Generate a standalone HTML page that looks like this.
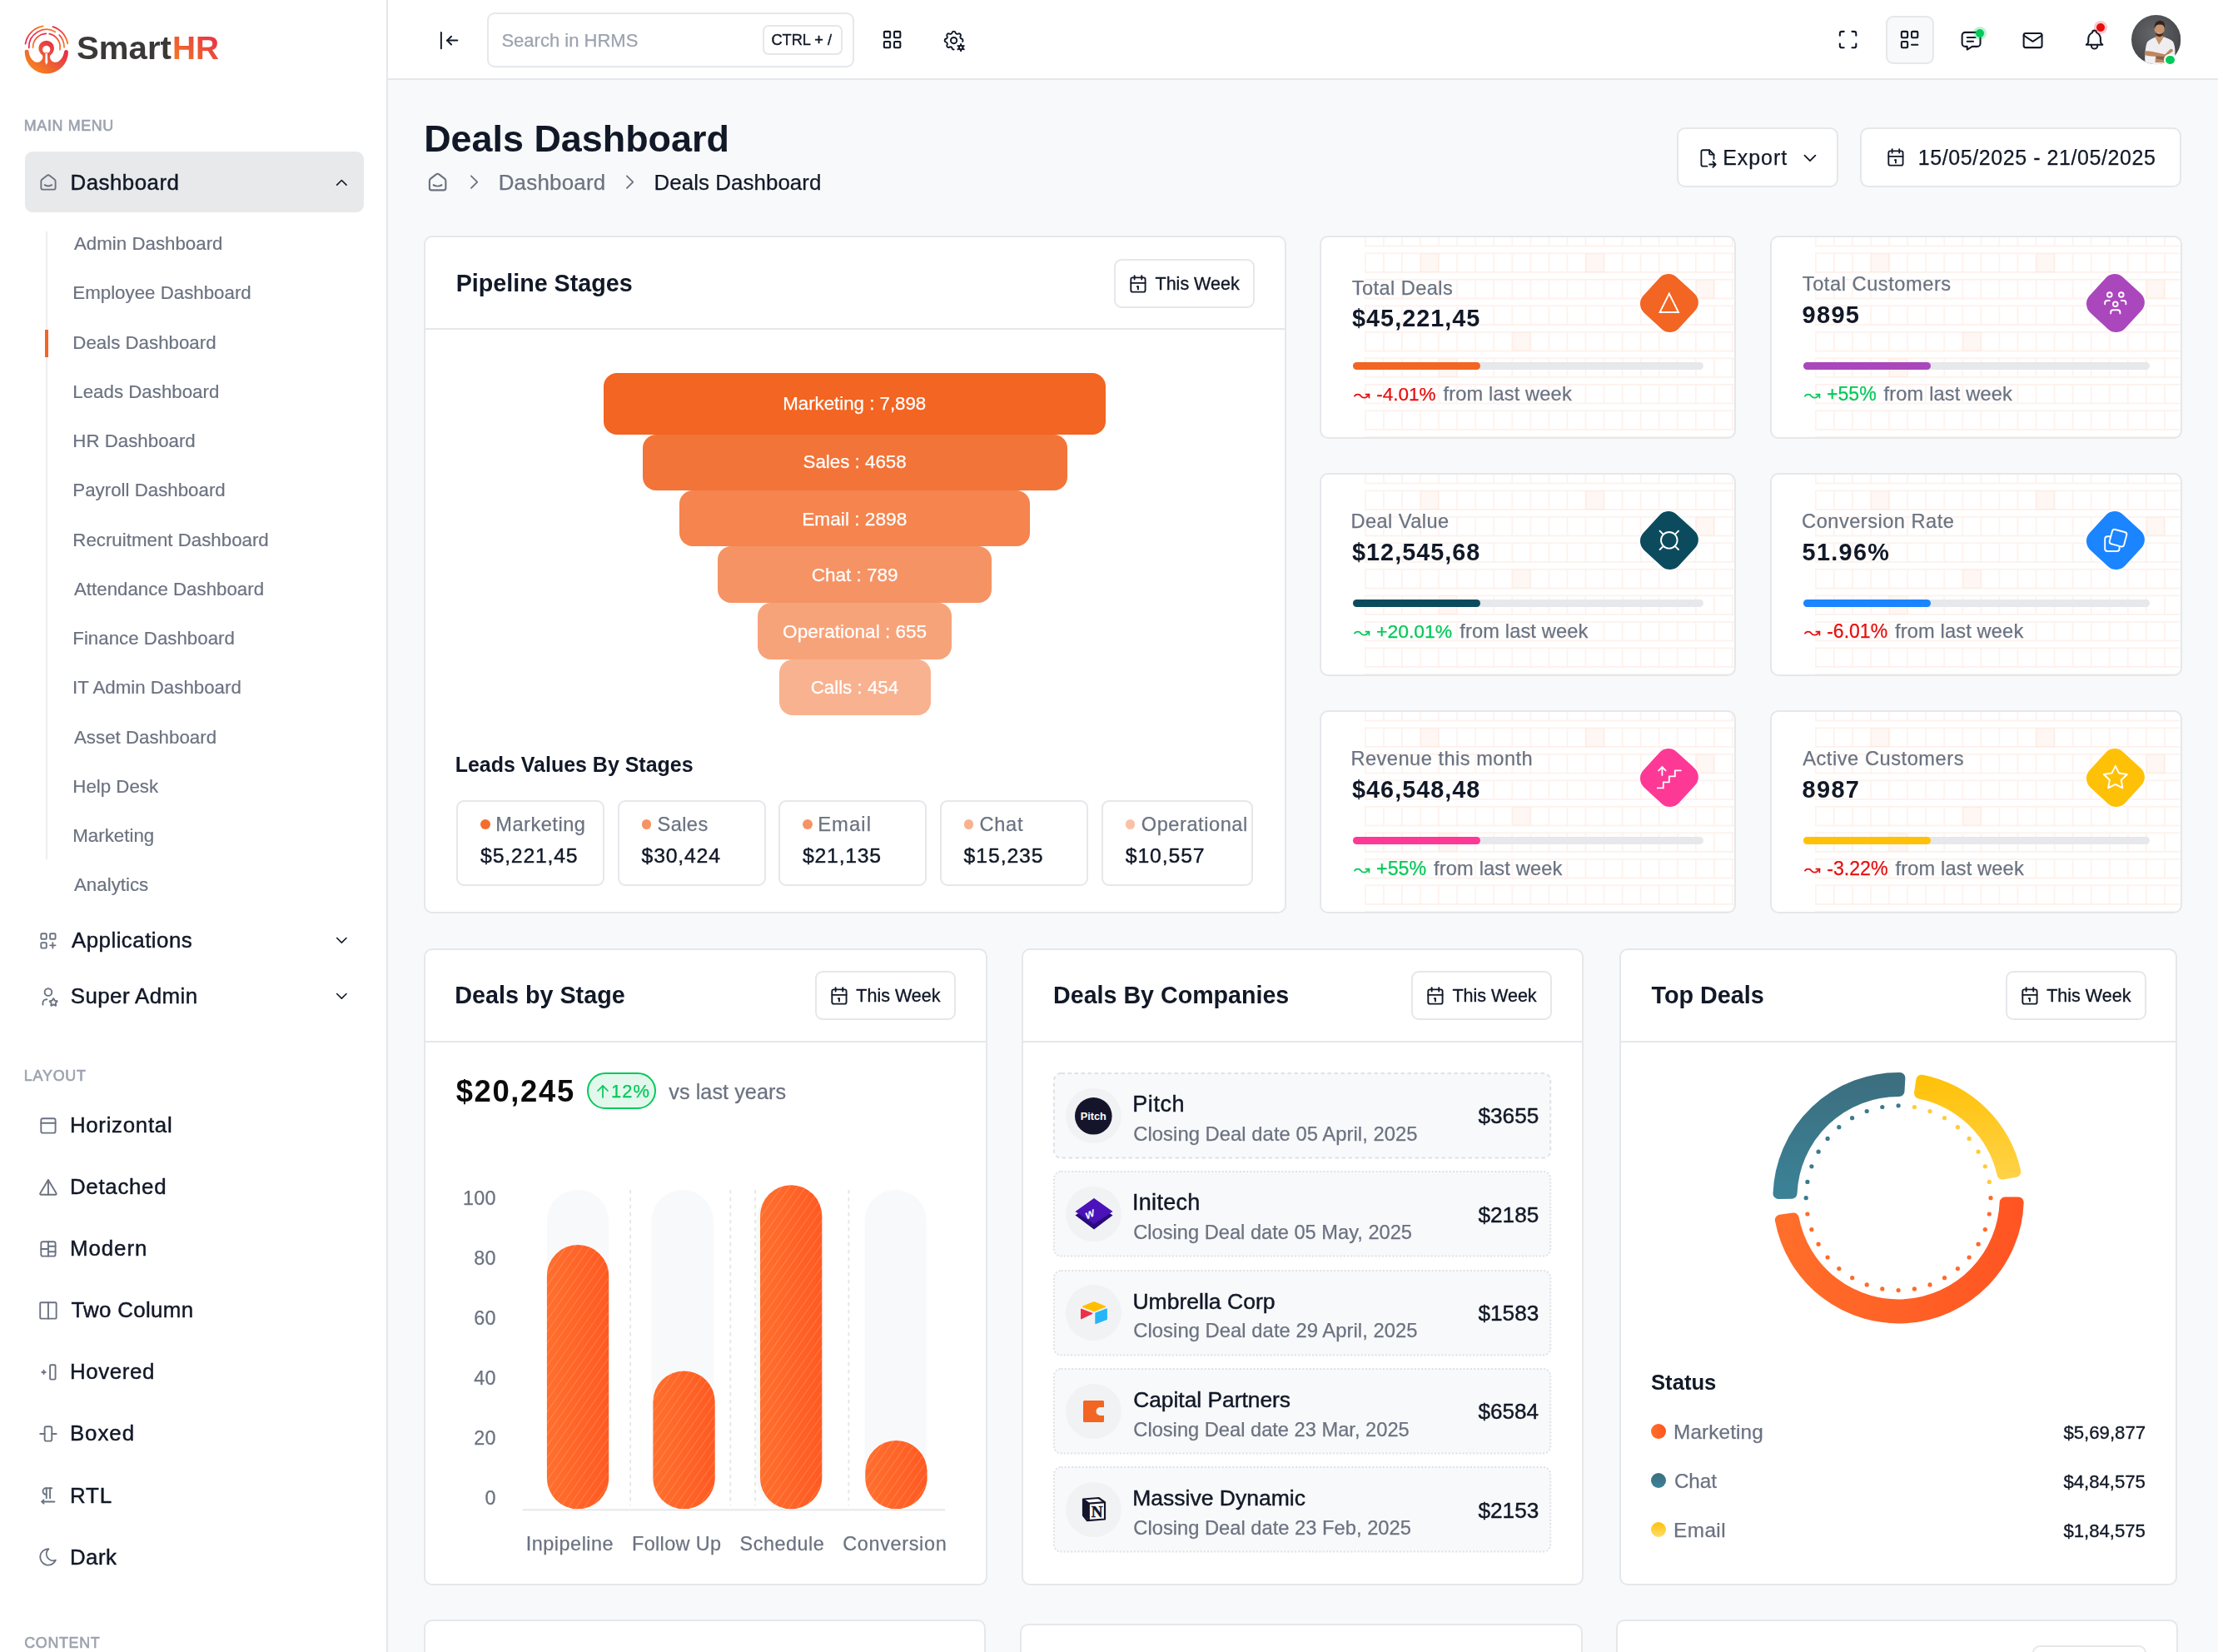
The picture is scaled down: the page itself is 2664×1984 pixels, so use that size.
<!DOCTYPE html>
<html lang="en"><head><meta charset="utf-8"><title>Deals Dashboard</title>
<style>
html,body{margin:0;padding:0}
body{width:2664px;height:1984px;overflow:hidden;background:#F8F9FA;position:relative;font-family:"Liberation Sans",sans-serif}
#app,#txt{position:absolute;left:0;top:0;width:2664px;height:1984px;overflow:hidden}
#txt{will-change:opacity}
.t{position:absolute;white-space:nowrap;line-height:1;display:block}
.b{position:absolute;box-sizing:border-box}
.i{position:absolute;display:block;overflow:visible}
</style></head>
<body>
<div id="app">
<div class="b" style="left:466.0px;top:0.0px;width:2198.0px;height:96.0px;background:#fff;border-bottom:2px solid #E5E7EB;"></div>
<svg class="i" style="left:525.4px;top:33.8px" width="29.2" height="29.2" viewBox="0 0 24 24" fill="none" stroke="#111827" stroke-width="1.6" stroke-linecap="round" stroke-linejoin="round"><path d="M10 12l10 0"/><path d="M10 12l4 4"/><path d="M10 12l4 -4"/><path d="M4 4l0 16"/></svg>
<div class="b" style="left:585.0px;top:15.0px;width:441.0px;height:66.0px;background:#fff;border:2px solid #E5E7EB;border-radius:9px;"></div>
<div class="b" style="left:916.0px;top:30.0px;width:95.5px;height:36.0px;background:#fff;border:2px solid #E5E7EB;border-radius:7px;"></div>
<svg class="i" style="left:1056.6px;top:33.4px" width="29.2" height="29.2" viewBox="0 0 24 24" fill="none" stroke="#111827" stroke-width="1.7" stroke-linecap="round" stroke-linejoin="round"><path d="M4 5a1 1 0 0 1 1 -1h4a1 1 0 0 1 1 1v4a1 1 0 0 1 -1 1h-4a1 1 0 0 1 -1 -1z"/><path d="M14 5a1 1 0 0 1 1 -1h4a1 1 0 0 1 1 1v4a1 1 0 0 1 -1 1h-4a1 1 0 0 1 -1 -1z"/><path d="M4 15a1 1 0 0 1 1 -1h4a1 1 0 0 1 1 1v4a1 1 0 0 1 -1 1h-4a1 1 0 0 1 -1 -1z"/><path d="M14 15a1 1 0 0 1 1 -1h4a1 1 0 0 1 1 1v4a1 1 0 0 1 -1 1h-4a1 1 0 0 1 -1 -1z"/></svg>
<svg class="i" style="left:1131.3px;top:33.6px" width="29.2" height="29.2" viewBox="0 0 24 24" fill="none" stroke="#111827" stroke-width="1.6" stroke-linecap="round" stroke-linejoin="round"><path d="M12.003 21c-.732 .001 -1.465 -.438 -1.678 -1.317a1.724 1.724 0 0 0 -2.573 -1.066c-1.543 .94 -3.31 -.826 -2.37 -2.37a1.724 1.724 0 0 0 -1.065 -2.572c-1.756 -.426 -1.756 -2.924 0 -3.35a1.724 1.724 0 0 0 1.066 -2.573c-.94 -1.543 .826 -3.31 2.37 -2.37c1 .608 2.296 .07 2.572 -1.065c.426 -1.756 2.924 -1.756 3.35 0a1.724 1.724 0 0 0 2.573 1.066c1.543 -.94 3.31 .826 2.37 2.37a1.724 1.724 0 0 0 1.065 2.572c1.312 .318 1.644 1.794 .995 2.697"/><path d="M9 12a3 3 0 1 0 6 0a3 3 0 0 0 -6 0"/><path d="M19.001 19m-2 0a2 2 0 1 0 4 0a2 2 0 1 0 -4 0"/><path d="M19.001 15.5v1.5"/><path d="M19.001 21v1.500"/><path d="M22.032 17.25l-1.299 .75"/><path d="M17.27 20l-1.3 .75"/><path d="M15.97 17.25l1.3 .75"/><path d="M20.733 20l1.300 .75"/></svg>
<svg class="i" style="left:2205.4px;top:33.4px" width="29.2" height="29.2" viewBox="0 0 24 24" fill="none" stroke="#111827" stroke-width="1.7" stroke-linecap="round" stroke-linejoin="round"><path d="M4 8v-2a2 2 0 0 1 2 -2h2"/><path d="M4 16v2a2 2 0 0 0 2 2h2"/><path d="M16 4h2a2 2 0 0 1 2 2v2"/><path d="M16 20h2a2 2 0 0 0 2 -2v-2"/></svg>
<div class="b" style="left:2264.7px;top:18.9px;width:58.4px;height:58.2px;background:#F8F9FA;border:2px solid #E5E7EB;border-radius:9px;"></div>
<svg class="i" style="left:2279.4px;top:33.4px" width="29.2" height="29.2" viewBox="0 0 24 24" fill="none" stroke="#111827" stroke-width="1.7" stroke-linecap="round" stroke-linejoin="round"><path d="M4 5a1 1 0 0 1 1 -1h4a1 1 0 0 1 1 1v4a1 1 0 0 1 -1 1h-4a1 1 0 0 1 -1 -1z"/><path d="M14 5a1 1 0 0 1 1 -1h4a1 1 0 0 1 1 1v4a1 1 0 0 1 -1 1h-4a1 1 0 0 1 -1 -1z"/><path d="M4 15a1 1 0 0 1 1 -1h4a1 1 0 0 1 1 1v4a1 1 0 0 1 -1 1h-4a1 1 0 0 1 -1 -1z"/><path d="M14 17h6"/></svg>
<svg class="i" style="left:2353.4px;top:34.2px" width="29.2" height="29.2" viewBox="0 0 24 24" fill="none" stroke="#111827" stroke-width="1.7" stroke-linecap="round" stroke-linejoin="round"><path d="M8 9h8"/><path d="M8 13h6"/><path d="M18 4a3 3 0 0 1 3 3v8a3 3 0 0 1 -3 3h-5l-5 3v-3h-2a3 3 0 0 1 -3 -3v-8a3 3 0 0 1 3 -3h12z"/></svg>
<div class="b" style="left:2369.7px;top:32.0px;width:16.0px;height:16.0px;background:rgba(3,201,90,.25);border-radius:8px;"></div>
<div class="b" style="left:2372.7px;top:35.0px;width:10.0px;height:10.0px;background:#03C95A;border-radius:5px;"></div>
<svg class="i" style="left:2427.4px;top:33.6px" width="29.2" height="29.2" viewBox="0 0 24 24" fill="none" stroke="#111827" stroke-width="1.7" stroke-linecap="round" stroke-linejoin="round"><path d="M3 7a2 2 0 0 1 2 -2h14a2 2 0 0 1 2 2v10a2 2 0 0 1 -2 2h-14a2 2 0 0 1 -2 -2v-10z"/><path d="M3 7l9 6l9 -6"/></svg>
<svg class="i" style="left:2501.3px;top:33.4px" width="29.2" height="29.2" viewBox="0 0 24 24" fill="none" stroke="#111827" stroke-width="1.7" stroke-linecap="round" stroke-linejoin="round"><path d="M10 5a2 2 0 1 1 4 0a7 7 0 0 1 4 6v3a4 4 0 0 0 2 3h-16a4 4 0 0 0 2 -3v-3a7 7 0 0 1 4 -6"/><path d="M9 17v1a3 3 0 0 0 6 0v-1"/></svg>
<div class="b" style="left:2514.5px;top:24.5px;width:16.0px;height:16.0px;background:rgba(232,38,70,.25);border-radius:8px;"></div>
<div class="b" style="left:2517.5px;top:27.5px;width:10.0px;height:10.0px;background:#E70D0D;border-radius:5px;"></div>
<svg class="i" style="left:2560.4px;top:18.4px" width="59.3" height="59.3" viewBox="215 215 1225 1225">
<defs><clipPath id="avc"><circle cx="827.5" cy="827.5" r="612.5"/></clipPath>
<radialGradient id="avg" cx="0.45" cy="0.38" r="0.65"><stop offset="0" stop-color="#64666A"/><stop offset="1" stop-color="#434448"/></radialGradient>
<filter id="avb"><feGaussianBlur stdDeviation="6"/></filter></defs>
<g clip-path="url(#avc)"><rect x="215" y="215" width="1225" height="1225" fill="url(#avg)"/>
<g filter="url(#avb)">
<path d="M560 1440C540 1250 560 1000 600 900C640 840 740 800 810 765L1020 755C1100 790 1200 820 1250 880C1300 980 1310 1150 1290 1250L1040 1440Z" fill="#EEEEF1"/>
<path d="M805 770L900 955L1020 758C980 740 960 700 955 680L850 690C850 720 830 750 805 770Z" fill="#C8916B"/>
<ellipse cx="910" cy="570" rx="125" ry="170" fill="#C8946E"/>
<path d="M790 560C770 420 850 350 930 355C1020 360 1060 430 1035 540C1020 470 990 450 920 455C850 450 810 480 790 560Z" fill="#33241C"/>
<path d="M800 610C810 720 860 755 910 755C965 755 1010 720 1020 610C1000 680 960 690 910 690C860 690 820 680 800 610Z" fill="#3B2A21"/>
<path d="M850 640C880 665 940 665 970 640C950 660 880 660 850 640Z" fill="#F3E9E4"/>
<path d="M545 1110C700 1090 900 1170 1050 1190L1180 1060C1220 1040 1260 1080 1240 1120L1100 1210L1045 1390L800 1390L810 1250C700 1240 600 1230 550 1200Z" fill="#BF8660"/>
<path d="M830 1240L1030 1250L1020 1330L840 1300Z" fill="#6B5144" opacity=".7"/>
<path d="M555 1250L805 1245L800 1400L570 1400Z" fill="#F1F1F4"/>
</g></g></svg>
<div class="b" style="left:2599.4px;top:64.9px;width:14.6px;height:14.6px;background:#03C95A;border:2.1px solid #fff;border-radius:7.3px;"></div>
<svg class="i" style="left:510.8px;top:203.8px" width="29.2" height="29.2" viewBox="0 0 24 24" fill="none" stroke="#6B7280" stroke-width="1.75" stroke-linecap="round" stroke-linejoin="round"><path d="M19 8.71l-5.333 -4.148a2.666 2.666 0 0 0 -3.274 0l-5.334 4.148a2.665 2.665 0 0 0 -1.029 2.105v7.2a2 2 0 0 0 2 2h12a2 2 0 0 0 2 -2v-7.2c0 -.823 -.38 -1.6 -1.03 -2.105"/><path d="M16 15c-2.21 1.333 -5.792 1.333 -8 0"/></svg>
<svg class="i" style="left:555.2px;top:203.9px" width="29.2" height="29.2" viewBox="0 0 24 24" fill="none" stroke="#6B7280" stroke-width="1.5" stroke-linecap="round" stroke-linejoin="round"><path d="M9 6l6 6l-6 6"/></svg>
<svg class="i" style="left:742.0px;top:203.9px" width="29.2" height="29.2" viewBox="0 0 24 24" fill="none" stroke="#6B7280" stroke-width="1.5" stroke-linecap="round" stroke-linejoin="round"><path d="M9 6l6 6l-6 6"/></svg>
<div class="b" style="left:2013.5px;top:152.7px;width:194.7px;height:72.3px;background:#fff;border:2px solid #E5E7EB;border-radius:10px;"></div>
<svg class="i" style="left:2038.0px;top:176.8px" width="25.9" height="25.9" viewBox="0 0 24 24" fill="none" stroke="#111827" stroke-width="1.7" stroke-linecap="round" stroke-linejoin="round"><path d="M14 3v4a1 1 0 0 0 1 1h4"/><path d="M11.5 21h-4.5a2 2 0 0 1 -2 -2v-14a2 2 0 0 1 2 -2h7l5 5v5m-5 6h7m-3 -3l3 3l-3 3"/></svg>
<svg class="i" style="left:2161.4px;top:177.0px" width="25.9" height="25.9" viewBox="0 0 24 24" fill="none" stroke="#111827" stroke-width="1.7" stroke-linecap="round" stroke-linejoin="round"><path d="M6 9l6 6l6 -6"/></svg>
<div class="b" style="left:2233.8px;top:152.7px;width:386.5px;height:72.3px;background:#fff;border:2px solid #E5E7EB;border-radius:10px;"></div>
<svg class="i" style="left:2264.1px;top:176.0px" width="25.9" height="25.9" viewBox="0 0 24 24" fill="none" stroke="#111827" stroke-width="1.7" stroke-linecap="round" stroke-linejoin="round"><path d="M4 7a2 2 0 0 1 2 -2h12a2 2 0 0 1 2 2v12a2 2 0 0 1 -2 2h-12a2 2 0 0 1 -2 -2z"/><path d="M16 3v4"/><path d="M8 3v4"/><path d="M4 11h16"/><path d="M11 15h1"/><path d="M12 15v3"/></svg>
<div class="b" style="left:509.0px;top:283.0px;width:1036.0px;height:814.0px;background:#fff;border:2px solid #E5E7EB;border-radius:10px;"></div>
<div class="b" style="left:511.0px;top:394.0px;width:1032.0px;height:2.0px;background:#E5E7EB;"></div>
<div class="b" style="left:1337.9px;top:311.0px;width:169.6px;height:58.7px;background:#fff;border:2px solid #E5E7EB;border-radius:9px;"></div>
<svg class="i" style="left:1354.0px;top:327.8px" width="25.9" height="25.9" viewBox="0 0 24 24" fill="none" stroke="#111827" stroke-width="1.75" stroke-linecap="round" stroke-linejoin="round"><path d="M4 7a2 2 0 0 1 2 -2h12a2 2 0 0 1 2 2v12a2 2 0 0 1 -2 2h-12a2 2 0 0 1 -2 -2z"/><path d="M16 3v4"/><path d="M8 3v4"/><path d="M4 11h16"/><path d="M11 15h1"/><path d="M12 15v3"/></svg>
<div class="b" style="left:725.0px;top:447.7px;width:603.4px;height:74.1px;background:rgba(242,101,34,1.00);border-radius:16px;"></div>
<div class="b" style="left:771.7px;top:521.8px;width:510.0px;height:67.1px;background:rgba(242,101,34,0.90);border-radius:16px;"></div>
<div class="b" style="left:816.3px;top:588.9px;width:420.8px;height:67.5px;background:rgba(242,101,34,0.80);border-radius:16px;"></div>
<div class="b" style="left:862.0px;top:656.4px;width:329.4px;height:67.9px;background:rgba(242,101,34,0.70);border-radius:16px;"></div>
<div class="b" style="left:910.4px;top:724.3px;width:232.6px;height:67.3px;background:rgba(242,101,34,0.60);border-radius:16px;"></div>
<div class="b" style="left:935.7px;top:791.6px;width:182.0px;height:67.6px;background:rgba(242,101,34,0.50);border-radius:16px;"></div>
<div class="b" style="left:548.0px;top:961.0px;width:178.2px;height:102.7px;background:#fff;border:2px solid #E5E7EB;border-radius:9px;"></div>
<div class="b" style="left:577.0px;top:984.3px;width:11.7px;height:11.7px;background:rgba(242,101,34,0.95);border-radius:6px;"></div>
<div class="b" style="left:741.5px;top:961.0px;width:178.2px;height:102.7px;background:#fff;border:2px solid #E5E7EB;border-radius:9px;"></div>
<div class="b" style="left:770.5px;top:984.3px;width:11.7px;height:11.7px;background:rgba(242,101,34,0.70);border-radius:6px;"></div>
<div class="b" style="left:935.0px;top:961.0px;width:178.2px;height:102.7px;background:#fff;border:2px solid #E5E7EB;border-radius:9px;"></div>
<div class="b" style="left:964.0px;top:984.3px;width:11.7px;height:11.7px;background:rgba(242,101,34,0.70);border-radius:6px;"></div>
<div class="b" style="left:1128.5px;top:961.0px;width:178.2px;height:102.7px;background:#fff;border:2px solid #E5E7EB;border-radius:9px;"></div>
<div class="b" style="left:1157.5px;top:984.3px;width:11.7px;height:11.7px;background:rgba(242,101,34,0.50);border-radius:6px;"></div>
<div class="b" style="left:1322.7px;top:961.0px;width:182.8px;height:102.7px;background:#fff;border:2px solid #E5E7EB;border-radius:9px;"></div>
<div class="b" style="left:1351.7px;top:984.3px;width:11.7px;height:11.7px;background:rgba(242,101,34,0.40);border-radius:6px;"></div>
<div class="b" style="left:1585.0px;top:283.0px;width:500.0px;height:244.0px;background:#fff;border:2px solid #E5E7EB;border-radius:10px;"></div>
<svg class="i" style="left:1639.3px;top:285.0px;overflow:hidden;border-radius:0 8px 8px 0" width="443.7" height="240.0"><defs><pattern id="gp1585_283" x="0" y="-13.1" width="22.05" height="31.5" patternUnits="userSpaceOnUse"><path d="M0.9 0V24.5M0 0.9H22.05M0 23.6H22.05" stroke="rgba(242,101,34,.09)" stroke-width="1.7" fill="none"/></pattern></defs><rect width="100%" height="100%" fill="url(#gp1585_283)"/><rect x="67.1" y="19.3" width="22.1" height="22.7" fill="rgba(242,101,34,.055)"/><rect x="265.5" y="19.3" width="22.1" height="22.7" fill="rgba(242,101,34,.055)"/><rect x="397.8" y="50.8" width="22.1" height="22.7" fill="rgba(242,101,34,.055)"/><rect x="177.3" y="113.8" width="22.1" height="22.7" fill="rgba(242,101,34,.055)"/><rect x="89.1" y="145.3" width="22.1" height="22.7" fill="rgba(242,101,34,.055)"/></svg>
<div class="b" style="left:1975.8px;top:334.7px;width:57.8px;height:57.8px;background:#F26522;border-radius:14.6px;transform:rotate(42.5deg);box-shadow:0 0 0 1.6px rgba(255,255,255,.95);"></div>
<svg class="i" style="left:1987.9px;top:346.8px" width="33.6" height="33.6" viewBox="0 0 24 24" fill="none" stroke="#fff" stroke-width="1.35" stroke-linecap="round" stroke-linejoin="miter"><path d="M4 20h16l-8 -16z"/></svg>
<div class="b" style="left:1624.5px;top:434.8px;width:421.7px;height:9.2px;background:#E6E8EB;border-radius:5px;"></div>
<div class="b" style="left:1624.5px;top:434.8px;width:153.1px;height:9.2px;background:#F26522;border-radius:5px;"></div>
<svg class="i" style="left:1623.8px;top:463.9px" width="23.3" height="23.3" viewBox="0 0 24 24" fill="none" stroke="#E70D0D" stroke-width="1.85" stroke-linecap="round" stroke-linejoin="round"><path d="M17 10h4v4"/><path d="M3 12c.887 -1.284 2.480 -2.033 4 -2c1.520 -.033 3.113 .716 4 2s2.480 2.033 4 2c1.520 .033 3.113 -.716 4 -2l2 -2"/></svg>
<div class="b" style="left:2126.0px;top:283.0px;width:495.0px;height:244.0px;background:#fff;border:2px solid #E5E7EB;border-radius:10px;"></div>
<svg class="i" style="left:2180.3px;top:285.0px;overflow:hidden;border-radius:0 8px 8px 0" width="438.7" height="240.0"><defs><pattern id="gp2126_283" x="0" y="-13.1" width="22.05" height="31.5" patternUnits="userSpaceOnUse"><path d="M0.9 0V24.5M0 0.9H22.05M0 23.6H22.05" stroke="rgba(242,101,34,.09)" stroke-width="1.7" fill="none"/></pattern></defs><rect width="100%" height="100%" fill="url(#gp2126_283)"/><rect x="67.1" y="19.3" width="22.1" height="22.7" fill="rgba(242,101,34,.055)"/><rect x="265.5" y="19.3" width="22.1" height="22.7" fill="rgba(242,101,34,.055)"/><rect x="397.8" y="50.8" width="22.1" height="22.7" fill="rgba(242,101,34,.055)"/><rect x="177.3" y="113.8" width="22.1" height="22.7" fill="rgba(242,101,34,.055)"/><rect x="89.1" y="145.3" width="22.1" height="22.7" fill="rgba(242,101,34,.055)"/></svg>
<div class="b" style="left:2511.8px;top:334.7px;width:57.8px;height:57.8px;background:#AB47BC;border-radius:14.6px;transform:rotate(42.5deg);box-shadow:0 0 0 1.6px rgba(255,255,255,.95);"></div>
<svg class="i" style="left:2523.9px;top:346.8px" width="33.6" height="33.6" viewBox="0 0 24 24" fill="none" stroke="#fff" stroke-width="1.35" stroke-linecap="round" stroke-linejoin="round"><path d="M10 13a2 2 0 1 0 4 0a2 2 0 0 0 -4 0"/><path d="M8 21v-1a2 2 0 0 1 2 -2h4a2 2 0 0 1 2 2v1"/><path d="M15 5a2 2 0 1 0 4 0a2 2 0 0 0 -4 0"/><path d="M17 10h2a2 2 0 0 1 2 2v1"/><path d="M5 5a2 2 0 1 0 4 0a2 2 0 0 0 -4 0"/><path d="M3 13v-1a2 2 0 0 1 2 -2h2"/></svg>
<div class="b" style="left:2165.5px;top:434.8px;width:416.7px;height:9.2px;background:#E6E8EB;border-radius:5px;"></div>
<div class="b" style="left:2165.5px;top:434.8px;width:153.1px;height:9.2px;background:#AB47BC;border-radius:5px;"></div>
<svg class="i" style="left:2164.8px;top:463.9px" width="23.3" height="23.3" viewBox="0 0 24 24" fill="none" stroke="#03C95A" stroke-width="1.85" stroke-linecap="round" stroke-linejoin="round"><path d="M17 10h4v4"/><path d="M3 12c.887 -1.284 2.480 -2.033 4 -2c1.520 -.033 3.113 .716 4 2s2.480 2.033 4 2c1.520 .033 3.113 -.716 4 -2l2 -2"/></svg>
<div class="b" style="left:1585.0px;top:568.0px;width:500.0px;height:244.0px;background:#fff;border:2px solid #E5E7EB;border-radius:10px;"></div>
<svg class="i" style="left:1639.3px;top:570.0px;overflow:hidden;border-radius:0 8px 8px 0" width="443.7" height="240.0"><defs><pattern id="gp1585_568" x="0" y="-13.1" width="22.05" height="31.5" patternUnits="userSpaceOnUse"><path d="M0.9 0V24.5M0 0.9H22.05M0 23.6H22.05" stroke="rgba(242,101,34,.09)" stroke-width="1.7" fill="none"/></pattern></defs><rect width="100%" height="100%" fill="url(#gp1585_568)"/><rect x="67.1" y="19.3" width="22.1" height="22.7" fill="rgba(242,101,34,.055)"/><rect x="265.5" y="19.3" width="22.1" height="22.7" fill="rgba(242,101,34,.055)"/><rect x="397.8" y="50.8" width="22.1" height="22.7" fill="rgba(242,101,34,.055)"/><rect x="177.3" y="113.8" width="22.1" height="22.7" fill="rgba(242,101,34,.055)"/><rect x="89.1" y="145.3" width="22.1" height="22.7" fill="rgba(242,101,34,.055)"/></svg>
<div class="b" style="left:1975.8px;top:619.7px;width:57.8px;height:57.8px;background:#0C4B5E;border-radius:14.6px;transform:rotate(42.5deg);box-shadow:0 0 0 1.6px rgba(255,255,255,.95);"></div>
<svg class="i" style="left:1987.9px;top:631.8px" width="33.6" height="33.6" viewBox="0 0 24 24" fill="none" stroke="#fff" stroke-width="1.35" stroke-linecap="round" stroke-linejoin="round"><path d="M5 12a7 7 0 1 0 14 0a7 7 0 1 0 -14 0"/><path d="M4 4l3 3"/><path d="M20 4l-3 3"/><path d="M4 20l3 -3"/><path d="M20 20l-3 -3"/></svg>
<div class="b" style="left:1624.5px;top:719.8px;width:421.7px;height:9.2px;background:#E6E8EB;border-radius:5px;"></div>
<div class="b" style="left:1624.5px;top:719.8px;width:153.1px;height:9.2px;background:#0C4B5E;border-radius:5px;"></div>
<svg class="i" style="left:1623.8px;top:748.9px" width="23.3" height="23.3" viewBox="0 0 24 24" fill="none" stroke="#03C95A" stroke-width="1.85" stroke-linecap="round" stroke-linejoin="round"><path d="M17 10h4v4"/><path d="M3 12c.887 -1.284 2.480 -2.033 4 -2c1.520 -.033 3.113 .716 4 2s2.480 2.033 4 2c1.520 .033 3.113 -.716 4 -2l2 -2"/></svg>
<div class="b" style="left:2126.0px;top:568.0px;width:495.0px;height:244.0px;background:#fff;border:2px solid #E5E7EB;border-radius:10px;"></div>
<svg class="i" style="left:2180.3px;top:570.0px;overflow:hidden;border-radius:0 8px 8px 0" width="438.7" height="240.0"><defs><pattern id="gp2126_568" x="0" y="-13.1" width="22.05" height="31.5" patternUnits="userSpaceOnUse"><path d="M0.9 0V24.5M0 0.9H22.05M0 23.6H22.05" stroke="rgba(242,101,34,.09)" stroke-width="1.7" fill="none"/></pattern></defs><rect width="100%" height="100%" fill="url(#gp2126_568)"/><rect x="67.1" y="19.3" width="22.1" height="22.7" fill="rgba(242,101,34,.055)"/><rect x="265.5" y="19.3" width="22.1" height="22.7" fill="rgba(242,101,34,.055)"/><rect x="397.8" y="50.8" width="22.1" height="22.7" fill="rgba(242,101,34,.055)"/><rect x="177.3" y="113.8" width="22.1" height="22.7" fill="rgba(242,101,34,.055)"/><rect x="89.1" y="145.3" width="22.1" height="22.7" fill="rgba(242,101,34,.055)"/></svg>
<div class="b" style="left:2511.8px;top:619.7px;width:57.8px;height:57.8px;background:#1B84FF;border-radius:14.6px;transform:rotate(42.5deg);box-shadow:0 0 0 1.6px rgba(255,255,255,.95);"></div>
<svg class="i" style="left:2523.9px;top:631.8px" width="33.6" height="33.6" viewBox="0 0 24 24" fill="none" stroke="#fff" stroke-width="1.35" stroke-linecap="round" stroke-linejoin="round"><rect x="3" y="8.8" width="12.4" height="12.6" rx="2.2"/><rect x="7.9" y="3.7" width="12.8" height="12.8" rx="2.2" fill="#1B84FF" transform="rotate(15 14.3 10.1)"/></svg>
<div class="b" style="left:2165.5px;top:719.8px;width:416.7px;height:9.2px;background:#E6E8EB;border-radius:5px;"></div>
<div class="b" style="left:2165.5px;top:719.8px;width:153.1px;height:9.2px;background:#1B84FF;border-radius:5px;"></div>
<svg class="i" style="left:2164.8px;top:748.9px" width="23.3" height="23.3" viewBox="0 0 24 24" fill="none" stroke="#E70D0D" stroke-width="1.85" stroke-linecap="round" stroke-linejoin="round"><path d="M17 10h4v4"/><path d="M3 12c.887 -1.284 2.480 -2.033 4 -2c1.520 -.033 3.113 .716 4 2s2.480 2.033 4 2c1.520 .033 3.113 -.716 4 -2l2 -2"/></svg>
<div class="b" style="left:1585.0px;top:853.0px;width:500.0px;height:244.0px;background:#fff;border:2px solid #E5E7EB;border-radius:10px;"></div>
<svg class="i" style="left:1639.3px;top:855.0px;overflow:hidden;border-radius:0 8px 8px 0" width="443.7" height="240.0"><defs><pattern id="gp1585_853" x="0" y="-13.1" width="22.05" height="31.5" patternUnits="userSpaceOnUse"><path d="M0.9 0V24.5M0 0.9H22.05M0 23.6H22.05" stroke="rgba(242,101,34,.09)" stroke-width="1.7" fill="none"/></pattern></defs><rect width="100%" height="100%" fill="url(#gp1585_853)"/><rect x="67.1" y="19.3" width="22.1" height="22.7" fill="rgba(242,101,34,.055)"/><rect x="265.5" y="19.3" width="22.1" height="22.7" fill="rgba(242,101,34,.055)"/><rect x="397.8" y="50.8" width="22.1" height="22.7" fill="rgba(242,101,34,.055)"/><rect x="177.3" y="113.8" width="22.1" height="22.7" fill="rgba(242,101,34,.055)"/><rect x="89.1" y="145.3" width="22.1" height="22.7" fill="rgba(242,101,34,.055)"/></svg>
<div class="b" style="left:1975.8px;top:904.7px;width:57.8px;height:57.8px;background:#FD3995;border-radius:14.6px;transform:rotate(42.5deg);box-shadow:0 0 0 1.6px rgba(255,255,255,.95);"></div>
<svg class="i" style="left:1987.9px;top:916.8px" width="33.6" height="33.6" viewBox="0 0 24 24" fill="none" stroke="#fff" stroke-width="1.35" stroke-linecap="round" stroke-linejoin="round"><path d="M22 6h-5v5h-5v5h-5v5h-5"/><path d="M6 10v-7"/><path d="M3 6l3 -3l3 3"/></svg>
<div class="b" style="left:1624.5px;top:1004.8px;width:421.7px;height:9.2px;background:#E6E8EB;border-radius:5px;"></div>
<div class="b" style="left:1624.5px;top:1004.8px;width:153.1px;height:9.2px;background:#FD3995;border-radius:5px;"></div>
<svg class="i" style="left:1623.8px;top:1033.9px" width="23.3" height="23.3" viewBox="0 0 24 24" fill="none" stroke="#03C95A" stroke-width="1.85" stroke-linecap="round" stroke-linejoin="round"><path d="M17 10h4v4"/><path d="M3 12c.887 -1.284 2.480 -2.033 4 -2c1.520 -.033 3.113 .716 4 2s2.480 2.033 4 2c1.520 .033 3.113 -.716 4 -2l2 -2"/></svg>
<div class="b" style="left:2126.0px;top:853.0px;width:495.0px;height:244.0px;background:#fff;border:2px solid #E5E7EB;border-radius:10px;"></div>
<svg class="i" style="left:2180.3px;top:855.0px;overflow:hidden;border-radius:0 8px 8px 0" width="438.7" height="240.0"><defs><pattern id="gp2126_853" x="0" y="-13.1" width="22.05" height="31.5" patternUnits="userSpaceOnUse"><path d="M0.9 0V24.5M0 0.9H22.05M0 23.6H22.05" stroke="rgba(242,101,34,.09)" stroke-width="1.7" fill="none"/></pattern></defs><rect width="100%" height="100%" fill="url(#gp2126_853)"/><rect x="67.1" y="19.3" width="22.1" height="22.7" fill="rgba(242,101,34,.055)"/><rect x="265.5" y="19.3" width="22.1" height="22.7" fill="rgba(242,101,34,.055)"/><rect x="397.8" y="50.8" width="22.1" height="22.7" fill="rgba(242,101,34,.055)"/><rect x="177.3" y="113.8" width="22.1" height="22.7" fill="rgba(242,101,34,.055)"/><rect x="89.1" y="145.3" width="22.1" height="22.7" fill="rgba(242,101,34,.055)"/></svg>
<div class="b" style="left:2511.8px;top:904.7px;width:57.8px;height:57.8px;background:#FFC107;border-radius:14.6px;transform:rotate(42.5deg);box-shadow:0 0 0 1.6px rgba(255,255,255,.95);"></div>
<svg class="i" style="left:2523.9px;top:916.8px" width="33.6" height="33.6" viewBox="0 0 24 24" fill="none" stroke="#fff" stroke-width="1.35" stroke-linecap="round" stroke-linejoin="round"><path d="M12 17.75l-6.172 3.245l1.179 -6.873l-5 -4.867l6.9 -1l3.086 -6.253l3.086 6.253l6.9 1l-5 4.867l1.179 6.873z"/></svg>
<div class="b" style="left:2165.5px;top:1004.8px;width:416.7px;height:9.2px;background:#E6E8EB;border-radius:5px;"></div>
<div class="b" style="left:2165.5px;top:1004.8px;width:153.1px;height:9.2px;background:#FFC107;border-radius:5px;"></div>
<svg class="i" style="left:2164.8px;top:1033.9px" width="23.3" height="23.3" viewBox="0 0 24 24" fill="none" stroke="#E70D0D" stroke-width="1.85" stroke-linecap="round" stroke-linejoin="round"><path d="M17 10h4v4"/><path d="M3 12c.887 -1.284 2.480 -2.033 4 -2c1.520 -.033 3.113 .716 4 2s2.480 2.033 4 2c1.520 .033 3.113 -.716 4 -2l2 -2"/></svg>
<div class="b" style="left:509.0px;top:1138.6px;width:677.0px;height:765.7px;background:#fff;border:2px solid #E5E7EB;border-radius:10px;"></div>
<div class="b" style="left:511.0px;top:1249.6px;width:673.0px;height:2.0px;background:#E5E7EB;"></div>
<div class="b" style="left:978.7px;top:1166.0px;width:169.6px;height:58.7px;background:#fff;border:2px solid #E5E7EB;border-radius:9px;"></div>
<svg class="i" style="left:994.8px;top:1182.8px" width="25.9" height="25.9" viewBox="0 0 24 24" fill="none" stroke="#111827" stroke-width="1.75" stroke-linecap="round" stroke-linejoin="round"><path d="M4 7a2 2 0 0 1 2 -2h12a2 2 0 0 1 2 2v12a2 2 0 0 1 -2 2h-12a2 2 0 0 1 -2 -2z"/><path d="M16 3v4"/><path d="M8 3v4"/><path d="M4 11h16"/><path d="M11 15h1"/><path d="M12 15v3"/></svg>
<div class="b" style="left:705.0px;top:1288.4px;width:83.0px;height:44.0px;background:#E3F8EC;border:2px solid #03C95A;border-radius:22px;"></div>
<svg class="i" style="left:711.7px;top:1299.2px" width="24" height="24" viewBox="0 0 24 24" fill="none" stroke="#03C95A" stroke-width="1.7" stroke-linecap="round" stroke-linejoin="round"><path d="M12 5l0 14"/><path d="M18 11l-6 -6"/><path d="M6 11l6 -6"/></svg>
<svg class="i" style="left:600px;top:1400px" width="560" height="430" viewBox="600 1400 560 430"><defs><linearGradient id="bg1" x1="0" y1="0" x2="1" y2="0"><stop offset="0" stop-color="#FF6F2E"/><stop offset="1" stop-color="#FF5A21"/></linearGradient><pattern id="bp1" width="9" height="9" patternUnits="userSpaceOnUse" patternTransform="rotate(35)"><rect width="9" height="9" fill="url(#bg1)"/><rect width="1.1" height="9" fill="rgba(255,255,255,.16)"/></pattern></defs><rect x="656.9" y="1429" width="74.2" height="383.3" rx="37.1" fill="#F8F9FA"/><rect x="782.6" y="1429" width="74.2" height="383.3" rx="37.1" fill="#F8F9FA"/><rect x="908.3" y="1429" width="74.2" height="383.3" rx="37.1" fill="#F8F9FA"/><rect x="1038.5" y="1429" width="74.2" height="383.3" rx="37.1" fill="#F8F9FA"/><path d="M757.1 1429V1808" stroke="#E3E5E9" stroke-width="1.8" stroke-dasharray="4.5 4.5"/><path d="M877.3 1429V1808" stroke="#E3E5E9" stroke-width="1.8" stroke-dasharray="4.5 4.5"/><path d="M907.2 1429V1808" stroke="#E3E5E9" stroke-width="1.8" stroke-dasharray="4.5 4.5"/><path d="M1019.4 1429V1808" stroke="#E3E5E9" stroke-width="1.8" stroke-dasharray="4.5 4.5"/><g><rect x="656.9" y="1495" width="74.3" height="317.3" rx="37.15" fill="url(#bg1)"/><clipPath id="bc0"><rect x="656.9" y="1495" width="74.3" height="317.3" rx="37.15"/></clipPath><g clip-path="url(#bc0)" stroke="rgba(255,255,255,.17)" stroke-width="1.1"><path d="M339.7 1820L629.7 1405"/><path d="M349.3 1820L639.3 1405"/><path d="M358.9 1820L648.9 1405"/><path d="M368.5 1820L658.5 1405"/><path d="M378.1 1820L668.1 1405"/><path d="M387.7 1820L677.7 1405"/><path d="M397.3 1820L687.3 1405"/><path d="M406.9 1820L696.9 1405"/><path d="M416.5 1820L706.5 1405"/><path d="M426.1 1820L716.1 1405"/><path d="M435.7 1820L725.7 1405"/><path d="M445.3 1820L735.3 1405"/><path d="M454.9 1820L744.9 1405"/><path d="M464.5 1820L754.5 1405"/><path d="M474.1 1820L764.1 1405"/><path d="M483.7 1820L773.7 1405"/><path d="M493.3 1820L783.3 1405"/><path d="M502.9 1820L792.9 1405"/><path d="M512.5 1820L802.5 1405"/><path d="M522.1 1820L812.1 1405"/><path d="M531.7 1820L821.7 1405"/><path d="M541.3 1820L831.3 1405"/><path d="M550.9 1820L840.9 1405"/><path d="M560.5 1820L850.5 1405"/><path d="M570.1 1820L860.1 1405"/><path d="M579.7 1820L869.7 1405"/><path d="M589.3 1820L879.3 1405"/><path d="M598.9 1820L888.9 1405"/><path d="M608.5 1820L898.5 1405"/><path d="M618.1 1820L908.1 1405"/><path d="M627.7 1820L917.7 1405"/><path d="M637.3 1820L927.3 1405"/><path d="M646.9 1820L936.9 1405"/><path d="M656.5 1820L946.5 1405"/><path d="M666.1 1820L956.1 1405"/><path d="M675.7 1820L965.7 1405"/><path d="M685.3 1820L975.3 1405"/><path d="M694.9 1820L984.9 1405"/><path d="M704.5 1820L994.5 1405"/><path d="M714.1 1820L1004.1 1405"/><path d="M723.7 1820L1013.7 1405"/><path d="M733.3 1820L1023.3 1405"/></g></g><g><rect x="784.4" y="1646.4" width="74.3" height="165.9" rx="37.15" fill="url(#bg1)"/><clipPath id="bc1"><rect x="784.4" y="1646.4" width="74.3" height="165.9" rx="37.15"/></clipPath><g clip-path="url(#bc1)" stroke="rgba(255,255,255,.17)" stroke-width="1.1"><path d="M467.2 1820L757.2 1405"/><path d="M476.8 1820L766.8 1405"/><path d="M486.4 1820L776.4 1405"/><path d="M496.0 1820L786.0 1405"/><path d="M505.6 1820L795.6 1405"/><path d="M515.2 1820L805.2 1405"/><path d="M524.8 1820L814.8 1405"/><path d="M534.4 1820L824.4 1405"/><path d="M544.0 1820L834.0 1405"/><path d="M553.6 1820L843.6 1405"/><path d="M563.2 1820L853.2 1405"/><path d="M572.8 1820L862.8 1405"/><path d="M582.4 1820L872.4 1405"/><path d="M592.0 1820L882.0 1405"/><path d="M601.6 1820L891.6 1405"/><path d="M611.2 1820L901.2 1405"/><path d="M620.8 1820L910.8 1405"/><path d="M630.4 1820L920.4 1405"/><path d="M640.0 1820L930.0 1405"/><path d="M649.6 1820L939.6 1405"/><path d="M659.2 1820L949.2 1405"/><path d="M668.8 1820L958.8 1405"/><path d="M678.4 1820L968.4 1405"/><path d="M688.0 1820L978.0 1405"/><path d="M697.6 1820L987.6 1405"/><path d="M707.2 1820L997.2 1405"/><path d="M716.8 1820L1006.8 1405"/><path d="M726.4 1820L1016.4 1405"/><path d="M736.0 1820L1026.0 1405"/><path d="M745.6 1820L1035.6 1405"/><path d="M755.2 1820L1045.2 1405"/><path d="M764.8 1820L1054.8 1405"/><path d="M774.4 1820L1064.4 1405"/><path d="M784.0 1820L1074.0 1405"/><path d="M793.6 1820L1083.6 1405"/><path d="M803.2 1820L1093.2 1405"/><path d="M812.8 1820L1102.8 1405"/><path d="M822.4 1820L1112.4 1405"/><path d="M832.0 1820L1122.0 1405"/><path d="M841.6 1820L1131.6 1405"/><path d="M851.2 1820L1141.2 1405"/><path d="M860.8 1820L1150.8 1405"/></g></g><g><rect x="913" y="1423.2" width="74.3" height="389.1" rx="37.15" fill="url(#bg1)"/><clipPath id="bc2"><rect x="913" y="1423.2" width="74.3" height="389.1" rx="37.15"/></clipPath><g clip-path="url(#bc2)" stroke="rgba(255,255,255,.17)" stroke-width="1.1"><path d="M595.8 1820L885.8 1405"/><path d="M605.4 1820L895.4 1405"/><path d="M615.0 1820L905.0 1405"/><path d="M624.6 1820L914.6 1405"/><path d="M634.2 1820L924.2 1405"/><path d="M643.8 1820L933.8 1405"/><path d="M653.4 1820L943.4 1405"/><path d="M663.0 1820L953.0 1405"/><path d="M672.6 1820L962.6 1405"/><path d="M682.2 1820L972.2 1405"/><path d="M691.8 1820L981.8 1405"/><path d="M701.4 1820L991.4 1405"/><path d="M711.0 1820L1001.0 1405"/><path d="M720.6 1820L1010.6 1405"/><path d="M730.2 1820L1020.2 1405"/><path d="M739.8 1820L1029.8 1405"/><path d="M749.4 1820L1039.4 1405"/><path d="M759.0 1820L1049.0 1405"/><path d="M768.6 1820L1058.6 1405"/><path d="M778.2 1820L1068.2 1405"/><path d="M787.8 1820L1077.8 1405"/><path d="M797.4 1820L1087.4 1405"/><path d="M807.0 1820L1097.0 1405"/><path d="M816.6 1820L1106.6 1405"/><path d="M826.2 1820L1116.2 1405"/><path d="M835.8 1820L1125.8 1405"/><path d="M845.4 1820L1135.4 1405"/><path d="M855.0 1820L1145.0 1405"/><path d="M864.6 1820L1154.6 1405"/><path d="M874.2 1820L1164.2 1405"/><path d="M883.8 1820L1173.8 1405"/><path d="M893.4 1820L1183.4 1405"/><path d="M903.0 1820L1193.0 1405"/><path d="M912.6 1820L1202.6 1405"/><path d="M922.2 1820L1212.2 1405"/><path d="M931.8 1820L1221.8 1405"/><path d="M941.4 1820L1231.4 1405"/><path d="M951.0 1820L1241.0 1405"/><path d="M960.6 1820L1250.6 1405"/><path d="M970.2 1820L1260.2 1405"/><path d="M979.8 1820L1269.8 1405"/><path d="M989.4 1820L1279.4 1405"/></g></g><g><rect x="1039.3" y="1730" width="74.3" height="82.3" rx="37.15" fill="url(#bg1)"/><clipPath id="bc3"><rect x="1039.3" y="1730" width="74.3" height="82.3" rx="37.15"/></clipPath><g clip-path="url(#bc3)" stroke="rgba(255,255,255,.17)" stroke-width="1.1"><path d="M722.1 1820L1012.1 1405"/><path d="M731.7 1820L1021.7 1405"/><path d="M741.3 1820L1031.3 1405"/><path d="M750.9 1820L1040.9 1405"/><path d="M760.5 1820L1050.5 1405"/><path d="M770.1 1820L1060.1 1405"/><path d="M779.7 1820L1069.7 1405"/><path d="M789.3 1820L1079.3 1405"/><path d="M798.9 1820L1088.9 1405"/><path d="M808.5 1820L1098.5 1405"/><path d="M818.1 1820L1108.1 1405"/><path d="M827.7 1820L1117.7 1405"/><path d="M837.3 1820L1127.3 1405"/><path d="M846.9 1820L1136.9 1405"/><path d="M856.5 1820L1146.5 1405"/><path d="M866.1 1820L1156.1 1405"/><path d="M875.7 1820L1165.7 1405"/><path d="M885.3 1820L1175.3 1405"/><path d="M894.9 1820L1184.9 1405"/><path d="M904.5 1820L1194.5 1405"/><path d="M914.1 1820L1204.1 1405"/><path d="M923.7 1820L1213.7 1405"/><path d="M933.3 1820L1223.3 1405"/><path d="M942.9 1820L1232.9 1405"/><path d="M952.5 1820L1242.5 1405"/><path d="M962.1 1820L1252.1 1405"/><path d="M971.7 1820L1261.7 1405"/><path d="M981.3 1820L1271.3 1405"/><path d="M990.9 1820L1280.9 1405"/><path d="M1000.5 1820L1290.5 1405"/><path d="M1010.1 1820L1300.1 1405"/><path d="M1019.7 1820L1309.7 1405"/><path d="M1029.3 1820L1319.3 1405"/><path d="M1038.9 1820L1328.9 1405"/><path d="M1048.5 1820L1338.5 1405"/><path d="M1058.1 1820L1348.1 1405"/><path d="M1067.7 1820L1357.7 1405"/><path d="M1077.3 1820L1367.3 1405"/><path d="M1086.9 1820L1376.9 1405"/><path d="M1096.5 1820L1386.5 1405"/><path d="M1106.1 1820L1396.1 1405"/><path d="M1115.7 1820L1405.7 1405"/></g></g><rect x="627.6" y="1812.3" width="507.6" height="2" fill="#E5E7EB"/></svg>
<div class="b" style="left:1227.0px;top:1138.6px;width:675.0px;height:765.7px;background:#fff;border:2px solid #E5E7EB;border-radius:10px;"></div>
<div class="b" style="left:1229.0px;top:1249.6px;width:671.0px;height:2.0px;background:#E5E7EB;"></div>
<div class="b" style="left:1694.8px;top:1166.0px;width:169.6px;height:58.7px;background:#fff;border:2px solid #E5E7EB;border-radius:9px;"></div>
<svg class="i" style="left:1710.9px;top:1182.8px" width="25.9" height="25.9" viewBox="0 0 24 24" fill="none" stroke="#111827" stroke-width="1.75" stroke-linecap="round" stroke-linejoin="round"><path d="M4 7a2 2 0 0 1 2 -2h12a2 2 0 0 1 2 2v12a2 2 0 0 1 -2 2h-12a2 2 0 0 1 -2 -2z"/><path d="M16 3v4"/><path d="M8 3v4"/><path d="M4 11h16"/><path d="M11 15h1"/><path d="M12 15v3"/></svg>
<svg class="i" style="left:1264px;top:1286.9px" width="600.2" height="105.6"><rect x="2" y="2" width="596.2" height="101.6" rx="8.5" fill="#F8F9FA" stroke="#DFE2E7" stroke-width="2" stroke-dasharray="4.5 3.5"/></svg>
<div class="b" style="left:1280.3px;top:1306.7px;width:66.4px;height:66.4px;background:#F1F2F4;border-radius:34px;"></div>
<svg class="i" style="left:1291.2px;top:1317.6px" width="44.6" height="44.6" viewBox="0 0 44.6 44.6"><circle cx="22.3" cy="22.3" r="22.3" fill="#14152B"/><text x="22.3" y="27" text-anchor="middle" font-family="Liberation Sans, sans-serif" font-weight="700" font-size="12.5" fill="#fff" textLength="31" lengthAdjust="spacingAndGlyphs">Pitch</text></svg>
<svg class="i" style="left:1264px;top:1405.2px" width="600.2" height="105.6"><rect x="2" y="2" width="596.2" height="101.6" rx="8.5" fill="#F8F9FA" stroke="#DFE2E7" stroke-width="2" stroke-dasharray="2.1 2.1"/></svg>
<div class="b" style="left:1280.3px;top:1425.0px;width:66.4px;height:66.4px;background:#F1F2F4;border-radius:34px;"></div>
<svg class="i" style="left:1290.5px;top:1438.2px" width="46" height="40" viewBox="0 0 46 40"><path d="M0.5 21.5L23 7l22.5 14.5L23 38.500z" fill="#2A0B7C"/><path d="M0.5 17L23 1l22.5 16L23 32z" fill="#4A12B8"/><text x="23" y="21.8" text-anchor="middle" font-family="Liberation Sans, sans-serif" font-weight="700" font-size="14.5" fill="#fff" transform="rotate(-27 23 17) skewX(-18)">w</text></svg>
<svg class="i" style="left:1264px;top:1523.5px" width="600.2" height="105.6"><rect x="2" y="2" width="596.2" height="101.6" rx="8.5" fill="#F8F9FA" stroke="#DFE2E7" stroke-width="2" stroke-dasharray="2.1 2.1"/></svg>
<div class="b" style="left:1280.3px;top:1543.3px;width:66.4px;height:66.4px;background:#F1F2F4;border-radius:34px;"></div>
<svg class="i" style="left:1297.5px;top:1562.5px" width="32" height="28" viewBox="0 0 32 28"><path d="M14.5 0.600 2.500 5.500c-.7 .3 -.7 1.200 0 1.500l12 4.800a4 4 0 0 0 3 0l12 -4.800c.7 -.3 .7 -1.200 0 -1.500L17.500 .6a4 4 0 0 0 -3 0z" fill="#FFBF00"/><path d="M17.300 14.400v12a.8 .8 0 0 0 1.100 .7l13 -5a.8 .8 0 0 0 .5 -.8v-12a.8 .8 0 0 0 -1.100 -.7l-13 5a.8 .8 0 0 0 -.5 .8z" fill="#26B5F8"/><path d="M14 15 .9 21.300c-.4 .2 -.9 -.1 -.9 -.6V9.400c0 -.3 .2 -.5 .4 -.6 .2 -.1 .5 0 .7 0l12.800 5c.6 .3 .7 1 .1 1.200z" fill="#ED3049"/></svg>
<svg class="i" style="left:1264px;top:1641.8px" width="600.2" height="105.6"><rect x="2" y="2" width="596.2" height="101.6" rx="8.5" fill="#F8F9FA" stroke="#DFE2E7" stroke-width="2" stroke-dasharray="2.1 2.1"/></svg>
<div class="b" style="left:1280.3px;top:1661.6px;width:66.4px;height:66.4px;background:#F1F2F4;border-radius:34px;"></div>
<svg class="i" style="left:1301.0px;top:1681.8px" width="25" height="26" viewBox="0 0 25 26"><path d="M1.500 0h22a1.500 1.500 0 0 1 1.500 1.500v6.500h-4.500a5 5 0 0 0 0 10h4.500v6.500a1.500 1.500 0 0 1 -1.500 1.500h-22a1.500 1.500 0 0 1 -1.500 -1.500v-23a1.500 1.500 0 0 1 1.500 -1.500z" fill="#F26522"/></svg>
<svg class="i" style="left:1264px;top:1760.1px" width="600.2" height="105.6"><rect x="2" y="2" width="596.2" height="101.6" rx="8.5" fill="#F8F9FA" stroke="#DFE2E7" stroke-width="2" stroke-dasharray="2.1 2.1"/></svg>
<div class="b" style="left:1280.3px;top:1779.9px;width:66.4px;height:66.4px;background:#F1F2F4;border-radius:34px;"></div>
<svg class="i" style="left:1298.5px;top:1797.1px" width="30" height="32" viewBox="0 0 30 32"><path d="M2 3.500 20.500 2l7.500 5.200v20.300l-21 1.700L2 23z" fill="#fff" stroke="#14152B" stroke-width="2.2" stroke-linejoin="round"/><path d="M2 3.500l6.800 5.200V29" fill="none" stroke="#14152B" stroke-width="2.2" stroke-linejoin="round"/><path d="M2 3.500 8.800 8.700V29L2 23z" fill="#14152B"/><path d="M8.800 8.700 28 7.200" stroke="#14152B" stroke-width="2.2"/><text x="18.600" y="25.200" text-anchor="middle" font-family="Liberation Serif, serif" font-weight="700" font-size="19" fill="#14152B" stroke="#14152B" stroke-width=".5">N</text></svg>
<div class="b" style="left:1944.5px;top:1138.6px;width:670.5px;height:765.7px;background:#fff;border:2px solid #E5E7EB;border-radius:10px;"></div>
<div class="b" style="left:1946.5px;top:1249.6px;width:666.5px;height:2.0px;background:#E5E7EB;"></div>
<div class="b" style="left:2408.6px;top:1166.0px;width:169.6px;height:58.7px;background:#fff;border:2px solid #E5E7EB;border-radius:9px;"></div>
<svg class="i" style="left:2424.6px;top:1182.8px" width="25.9" height="25.9" viewBox="0 0 24 24" fill="none" stroke="#111827" stroke-width="1.75" stroke-linecap="round" stroke-linejoin="round"><path d="M4 7a2 2 0 0 1 2 -2h12a2 2 0 0 1 2 2v12a2 2 0 0 1 -2 2h-12a2 2 0 0 1 -2 -2z"/><path d="M16 3v4"/><path d="M8 3v4"/><path d="M4 11h16"/><path d="M11 15h1"/><path d="M12 15v3"/></svg>
<svg class="i" style="left:2120px;top:1280px" width="320" height="320" viewBox="2120 1280 320 320"><defs><linearGradient id="dg1" gradientUnits="userSpaceOnUse" x1="2130" y1="0" x2="2430" y2="0"><stop offset="0" stop-color="#FF6F2A"/><stop offset="1" stop-color="#FF5422"/></linearGradient><linearGradient id="dg2" gradientUnits="userSpaceOnUse" x1="0" y1="1290" x2="0" y2="1440"><stop offset="0" stop-color="#3C6E7F"/><stop offset="1" stop-color="#3B8297"/></linearGradient><linearGradient id="dg3" gradientUnits="userSpaceOnUse" x1="0" y1="1290" x2="0" y2="1420"><stop offset="0" stop-color="#FFC107"/><stop offset="1" stop-color="#FFD34A"/></linearGradient></defs><path d="M2136.00 1433.46A144.20 144.20 0 0 1 2281.91 1294.51L2280.98 1310.50A128.20 128.20 0 0 0 2152.01 1433.32Z" fill="url(#dg2)" stroke="url(#dg2)" stroke-width="13.0" stroke-linejoin="round"/><path d="M2307.82 1297.19A144.20 144.20 0 0 1 2420.84 1407.29L2405.06 1410.07A128.20 128.20 0 0 0 2305.45 1313.03Z" fill="url(#dg3)" stroke="url(#dg3)" stroke-width="13.0" stroke-linejoin="round"/><path d="M2424.20 1443.94A144.20 144.20 0 0 1 2138.35 1465.18L2154.22 1462.95A128.20 128.20 0 0 0 2408.19 1444.08Z" fill="url(#dg1)" stroke="url(#dg1)" stroke-width="13.0" stroke-linejoin="round"/><circle cx="2280.1" cy="1327.8" r="2.6" fill="#3B7A8E"/><circle cx="2299.4" cy="1329.5" r="2.6" fill="#FFCB3B"/><circle cx="2318.0" cy="1334.5" r="2.6" fill="#FFCB3B"/><circle cx="2335.5" cy="1342.7" r="2.6" fill="#FFCB3B"/><circle cx="2351.4" cy="1353.7" r="2.6" fill="#FFCB3B"/><circle cx="2365.1" cy="1367.4" r="2.6" fill="#FFCB3B"/><circle cx="2376.1" cy="1383.2" r="2.6" fill="#FFCB3B"/><circle cx="2384.3" cy="1400.8" r="2.6" fill="#FFCB3B"/><circle cx="2389.3" cy="1419.4" r="2.6" fill="#FFCB3B"/><circle cx="2391.0" cy="1438.7" r="2.6" fill="#FF6A2B"/><circle cx="2389.3" cy="1458.0" r="2.6" fill="#FF6A2B"/><circle cx="2384.3" cy="1476.6" r="2.6" fill="#FF6A2B"/><circle cx="2376.1" cy="1494.2" r="2.6" fill="#FF6A2B"/><circle cx="2365.1" cy="1510.0" r="2.6" fill="#FF6A2B"/><circle cx="2351.4" cy="1523.7" r="2.6" fill="#FF6A2B"/><circle cx="2335.5" cy="1534.7" r="2.6" fill="#FF6A2B"/><circle cx="2318.0" cy="1542.9" r="2.6" fill="#FF6A2B"/><circle cx="2299.4" cy="1547.9" r="2.6" fill="#FF6A2B"/><circle cx="2280.1" cy="1549.6" r="2.6" fill="#FF6A2B"/><circle cx="2260.8" cy="1547.9" r="2.6" fill="#FF6A2B"/><circle cx="2242.2" cy="1542.9" r="2.6" fill="#FF6A2B"/><circle cx="2224.7" cy="1534.7" r="2.6" fill="#FF6A2B"/><circle cx="2208.8" cy="1523.7" r="2.6" fill="#FF6A2B"/><circle cx="2195.1" cy="1510.0" r="2.6" fill="#FF6A2B"/><circle cx="2184.1" cy="1494.2" r="2.6" fill="#FF6A2B"/><circle cx="2175.9" cy="1476.6" r="2.6" fill="#FF6A2B"/><circle cx="2170.9" cy="1458.0" r="2.6" fill="#FF6A2B"/><circle cx="2169.2" cy="1438.7" r="2.6" fill="#3B7A8E"/><circle cx="2170.9" cy="1419.4" r="2.6" fill="#3B7A8E"/><circle cx="2175.9" cy="1400.8" r="2.6" fill="#3B7A8E"/><circle cx="2184.1" cy="1383.2" r="2.6" fill="#3B7A8E"/><circle cx="2195.1" cy="1367.4" r="2.6" fill="#3B7A8E"/><circle cx="2208.8" cy="1353.7" r="2.6" fill="#3B7A8E"/><circle cx="2224.6" cy="1342.7" r="2.6" fill="#3B7A8E"/><circle cx="2242.2" cy="1334.5" r="2.6" fill="#3B7A8E"/><circle cx="2260.8" cy="1329.5" r="2.6" fill="#3B7A8E"/></svg>
<div class="b" style="left:1983.3px;top:1710.3px;width:18.2px;height:18.2px;background:linear-gradient(90deg,#FF6F2A,#FF5422);border-radius:9.1px;"></div>
<div class="b" style="left:1983.3px;top:1769.2px;width:18.2px;height:18.2px;background:linear-gradient(180deg,#3C6E7F,#3B8297);border-radius:9.1px;"></div>
<div class="b" style="left:1983.3px;top:1828.1px;width:18.2px;height:18.2px;background:linear-gradient(180deg,#FFC107,#FFDD6B);border-radius:9.1px;"></div>
<div class="b" style="left:509.0px;top:1945.3px;width:674.5px;height:60.0px;background:#fff;border:2px solid #E5E7EB;border-radius:10px;"></div>
<div class="b" style="left:1225.0px;top:1950.3px;width:676.0px;height:60.0px;background:#fff;border:2px solid #E5E7EB;border-radius:10px;"></div>
<div class="b" style="left:1941.0px;top:1945.3px;width:675.0px;height:60.0px;background:#fff;border:2px solid #E5E7EB;border-radius:10px;"></div>
<div class="b" style="left:2441.0px;top:1976.0px;width:137.0px;height:30.0px;background:#fff;border:2px solid #E5E7EB;border-radius:9px;"></div>
<div class="b" style="left:0.0px;top:0.0px;width:466.0px;height:1984.0px;background:#fff;border-right:2px solid #E5E7EB;"></div>
<svg class="i" style="left:22px;top:24px" width="70" height="70" viewBox="0 0 1652 1652" fill="none">
<defs><linearGradient id="lg1" gradientUnits="userSpaceOnUse" x1="1250" y1="650" x2="600" y2="1450"><stop offset="0" stop-color="#E4234F"/><stop offset="1" stop-color="#F47C23"/></linearGradient>
<linearGradient id="ga" gradientUnits="userSpaceOnUse" x1="200" y1="700" x2="700" y2="180"><stop offset="0" stop-color="#E8234F"/><stop offset="1" stop-color="#F58220"/></linearGradient>
<linearGradient id="ga2" gradientUnits="userSpaceOnUse" x1="310" y1="750" x2="1040" y2="340"><stop offset="0.200" stop-color="#E8234F"/><stop offset="1" stop-color="#F58220"/></linearGradient>
<linearGradient id="gb" gradientUnits="userSpaceOnUse" x1="950" y1="200" x2="1350" y2="800"><stop offset="0" stop-color="#E8234F"/><stop offset="1" stop-color="#F58220"/></linearGradient>
<linearGradient id="gc" gradientUnits="userSpaceOnUse" x1="420" y1="780" x2="800" y2="390"><stop offset="0" stop-color="#F58220"/><stop offset="1" stop-color="#E8234F"/></linearGradient></defs>
<path fill-rule="evenodd" fill="url(#lg1)" d="M182 905A615 615 0 0 0 1415 905A58 58 0 0 0 1300 895C1290 1000 1200 1190 1060 1200C960 1205 900 1130 895 1040C895 1000 930 985 960 950A220 220 0 1 0 630 950C660 985 695 1000 695 1040C690 1130 630 1205 530 1200C390 1190 300 1000 298 895A58 58 0 0 0 182 905ZM795 727a108 108 0 1 0 0.100 0ZM768 925L822 925L832 1200L795 1272L762 1200Z"/>
<g stroke-width="42" stroke-linecap="round"><path d="M202 675A605 605 0 0 1 700 173" stroke="url(#ga)"/><path d="M977 191A605 605 0 0 1 1397 670" stroke="url(#gb)"/><path d="M300 787A500 500 0 0 1 1046 335" stroke="url(#ga2)"/><path d="M1163 426A500 500 0 0 1 1300 770" stroke="url(#gb)"/><path d="M415 780A385 385 0 0 1 787 385" stroke="url(#gc)"/><path d="M880 393A385 385 0 0 1 1179 840" stroke="url(#gb)"/></g></svg>
<div class="b" style="left:30.0px;top:181.5px;width:406.5px;height:73.8px;background:#E8E9EB;border-radius:9px;"></div>
<svg class="i" style="left:44.5px;top:206.0px" width="25.9" height="25.9" viewBox="0 0 24 24" fill="none" stroke="#6B7280" stroke-width="1.75" stroke-linecap="round" stroke-linejoin="round"><path d="M19 8.71l-5.333 -4.148a2.666 2.666 0 0 0 -3.274 0l-5.334 4.148a2.665 2.665 0 0 0 -1.029 2.105v7.2a2 2 0 0 0 2 2h12a2 2 0 0 0 2 -2v-7.2c0 -.823 -.38 -1.6 -1.03 -2.105"/><path d="M16 15c-2.21 1.333 -5.792 1.333 -8 0"/></svg>
<svg class="i" style="left:399.4px;top:207.7px" width="22.7" height="22.7" viewBox="0 0 24 24" fill="none" stroke="#111827" stroke-width="1.7" stroke-linecap="round" stroke-linejoin="round"><path d="M6 15l6 -6l6 6"/></svg>
<div class="b" style="left:54.7px;top:277.7px;width:2.0px;height:754.0px;background:#ECEEF1;"></div>
<div class="b" style="left:53.5px;top:396.4px;width:4.2px;height:33.0px;background:#F26522;"></div>
<svg class="i" style="left:44.5px;top:1116.5px" width="25.9" height="25.9" viewBox="0 0 24 24" fill="none" stroke="#6B7280" stroke-width="1.75" stroke-linecap="round" stroke-linejoin="round"><path d="M4 5a1 1 0 0 1 1 -1h4a1 1 0 0 1 1 1v4a1 1 0 0 1 -1 1h-4a1 1 0 0 1 -1 -1z"/><path d="M14 5a1 1 0 0 1 1 -1h4a1 1 0 0 1 1 1v4a1 1 0 0 1 -1 1h-4a1 1 0 0 1 -1 -1z"/><path d="M4 15a1 1 0 0 1 1 -1h4a1 1 0 0 1 1 1v4a1 1 0 0 1 -1 1h-4a1 1 0 0 1 -1 -1z"/><path d="M14 17h6m-3 -3v6"/></svg>
<svg class="i" style="left:399.4px;top:1118.1px" width="22.7" height="22.7" viewBox="0 0 24 24" fill="none" stroke="#111827" stroke-width="1.7" stroke-linecap="round" stroke-linejoin="round"><path d="M6 9l6 6l6 -6"/></svg>
<svg class="i" style="left:44.5px;top:1183.8px" width="25.9" height="25.9" viewBox="0 0 24 24" fill="none" stroke="#6B7280" stroke-width="1.75" stroke-linecap="round" stroke-linejoin="round"><path d="M8 7a4 4 0 1 0 8 0a4 4 0 0 0 -8 0"/><path d="M6 21v-2a4 4 0 0 1 4 -4h.5"/><path d="M17.8 20.817l-2.172 1.138a.392 .392 0 0 1 -.568 -.41l.415 -2.411l-1.757 -1.707a.389 .389 0 0 1 .217 -.665l2.428 -.352l1.086 -2.193a.392 .392 0 0 1 .702 0l1.086 2.193l2.428 .352a.39 .39 0 0 1 .217 .665l-1.757 1.707l.414 2.41a.39 .39 0 0 1 -.567 .411l-2.172 -1.138z"/></svg>
<svg class="i" style="left:399.4px;top:1185.4px" width="22.7" height="22.7" viewBox="0 0 24 24" fill="none" stroke="#111827" stroke-width="1.7" stroke-linecap="round" stroke-linejoin="round"><path d="M6 9l6 6l6 -6"/></svg>
<svg class="i" style="left:44.5px;top:1338.8px" width="25.9" height="25.9" viewBox="0 0 24 24" fill="none" stroke="#6B7280" stroke-width="1.75" stroke-linecap="round" stroke-linejoin="round"><path d="M4 6a2 2 0 0 1 2 -2h12a2 2 0 0 1 2 2v12a2 2 0 0 1 -2 2h-12a2 2 0 0 1 -2 -2z"/><path d="M4 9l16 0"/></svg>
<svg class="i" style="left:44.5px;top:1412.8px" width="25.9" height="25.9" viewBox="0 0 24 24" fill="none" stroke="#6B7280" stroke-width="1.75" stroke-linecap="round" stroke-linejoin="round"><path d="M12 3.800l8.900 14.700a1.100 1.100 0 0 1 -.95 1.700h-15.900a1.100 1.100 0 0 1 -.950 -1.700z"/><path d="M12 3.800v16.400"/></svg>
<svg class="i" style="left:44.5px;top:1486.8px" width="25.9" height="25.9" viewBox="0 0 24 24" fill="none" stroke="#6B7280" stroke-width="1.75" stroke-linecap="round" stroke-linejoin="round"><path d="M4 6a2 2 0 0 1 2 -2h12a2 2 0 0 1 2 2v12a2 2 0 0 1 -2 2h-12a2 2 0 0 1 -2 -2z"/><path d="M4 12h8"/><path d="M12 15h8"/><path d="M12 9h8"/><path d="M12 4v16"/></svg>
<svg class="i" style="left:44.5px;top:1560.9px" width="25.9" height="25.9" viewBox="0 0 24 24" fill="none" stroke="#6B7280" stroke-width="1.75" stroke-linecap="round" stroke-linejoin="round"><path d="M3 4a1 1 0 0 1 1 -1h16a1 1 0 0 1 1 1v16a1 1 0 0 1 -1 1h-16a1 1 0 0 1 -1 -1z"/><path d="M12 3v18"/></svg>
<svg class="i" style="left:44.5px;top:1635.0px" width="25.9" height="25.9" viewBox="0 0 24 24" fill="none" stroke="#6B7280" stroke-width="1.75" stroke-linecap="round" stroke-linejoin="round"><path d="M14 5a1 1 0 0 1 1 -1h4a1 1 0 0 1 1 1v14a1 1 0 0 1 -1 1h-4a1 1 0 0 1 -1 -1z"/><path d="M5 12h4"/><path d="M7 10v4"/></svg>
<svg class="i" style="left:44.5px;top:1709.0px" width="25.9" height="25.9" viewBox="0 0 24 24" fill="none" stroke="#6B7280" stroke-width="1.75" stroke-linecap="round" stroke-linejoin="round"><path d="M3 12h5"/><path d="M16 12h5"/><path d="M8 6a2 2 0 0 1 2 -2h4a2 2 0 0 1 2 2v12a2 2 0 0 1 -2 2h-4a2 2 0 0 1 -2 -2z"/></svg>
<svg class="i" style="left:44.5px;top:1783.0px" width="25.9" height="25.9" viewBox="0 0 24 24" fill="none" stroke="#6B7280" stroke-width="1.75" stroke-linecap="round" stroke-linejoin="round"><path d="M16 4h-6.5a3.5 3.5 0 0 0 0 7h.5"/><path d="M14 15v-11"/><path d="M10 15v-11"/><path d="M5 19h14"/><path d="M7 21l-2 -2l2 -2"/></svg>
<svg class="i" style="left:44.5px;top:1857.1px" width="25.9" height="25.9" viewBox="0 0 24 24" fill="none" stroke="#6B7280" stroke-width="1.75" stroke-linecap="round" stroke-linejoin="round"><path d="M12 3c.132 0 .263 0 .393 0a7.5 7.5 0 0 0 7.92 12.446a9 9 0 1 1 -8.313 -12.454z"/></svg>
</div>
<div id="txt">
<span class="t" style="left:602.4px;top:37.90px;font-size:22.02px;color:#9CA3AF;-webkit-text-stroke:0.25px #9CA3AF;">Search in HRMS</span>
<span class="t" style="left:926.4px;top:38.90px;font-size:18.19px;color:#111827;-webkit-text-stroke:0.4px #111827;">CTRL + /</span>
<span class="t" style="left:509.2px;top:145.10px;font-size:44.88px;color:#111827;font-weight:700;">Deals Dashboard</span>
<span class="t" style="left:598.7px;top:206.60px;font-size:25.90px;color:#6B7280;letter-spacing:0.23px;-webkit-text-stroke:0.25px #6B7280;">Dashboard</span>
<span class="t" style="left:785.5px;top:206.60px;font-size:25.90px;color:#111827;letter-spacing:0.06px;-webkit-text-stroke:0.25px #111827;">Deals Dashboard</span>
<span class="t" style="left:2069.2px;top:177.20px;font-size:25.00px;color:#111827;letter-spacing:0.94px;-webkit-text-stroke:0.25px #111827;">Export</span>
<span class="t" style="left:2303.8px;top:177.20px;font-size:25.00px;color:#111827;letter-spacing:0.57px;-webkit-text-stroke:0.25px #111827;">15/05/2025 - 21/05/2025</span>
<span class="t" style="left:547.7px;top:325.50px;font-size:28.68px;color:#111827;font-weight:700;">Pipeline Stages</span>
<span class="t" style="left:1387.5px;top:331.10px;font-size:21.53px;color:#111827;-webkit-text-stroke:0.35px #111827;">This Week</span>
<span class="t" style="left:940.3px;top:474.10px;font-size:22.26px;color:#fff;-webkit-text-stroke:0.25px #fff;">Marketing : 7,898</span>
<span class="t" style="left:964.5px;top:544.30px;font-size:22.35px;color:#fff;-webkit-text-stroke:0.25px #fff;">Sales : 4658</span>
<span class="t" style="left:963.2px;top:611.80px;font-size:22.70px;color:#fff;-webkit-text-stroke:0.25px #fff;">Email : 2898</span>
<span class="t" style="left:974.7px;top:679.60px;font-size:22.53px;color:#fff;-webkit-text-stroke:0.25px #fff;">Chat : 789</span>
<span class="t" style="left:940.1px;top:747.80px;font-size:22.55px;color:#fff;-webkit-text-stroke:0.25px #fff;">Operational : 655</span>
<span class="t" style="left:973.7px;top:814.70px;font-size:22.32px;color:#fff;-webkit-text-stroke:0.25px #fff;">Calls : 454</span>
<span class="t" style="left:546.7px;top:905.80px;font-size:24.98px;color:#111827;font-weight:700;">Leads Values By Stages</span>
<span class="t" style="left:595.3px;top:978.80px;font-size:23.60px;color:#6B7280;letter-spacing:0.50px;-webkit-text-stroke:0.25px #6B7280;">Marketing</span>
<span class="t" style="left:577.1px;top:1016.20px;font-size:24.80px;color:#111827;letter-spacing:0.77px;-webkit-text-stroke:0.4px #111827;">$5,221,45</span>
<span class="t" style="left:789.6px;top:978.80px;font-size:23.60px;color:#6B7280;letter-spacing:0.39px;-webkit-text-stroke:0.25px #6B7280;">Sales</span>
<span class="t" style="left:770.6px;top:1016.20px;font-size:24.80px;color:#111827;letter-spacing:0.79px;-webkit-text-stroke:0.4px #111827;">$30,424</span>
<span class="t" style="left:982.2px;top:977.80px;font-size:23.79px;color:#6B7280;letter-spacing:1.07px;-webkit-text-stroke:0.25px #6B7280;">Email</span>
<span class="t" style="left:964.1px;top:1016.20px;font-size:24.80px;color:#111827;letter-spacing:0.72px;-webkit-text-stroke:0.4px #111827;">$21,135</span>
<span class="t" style="left:1176.5px;top:978.80px;font-size:23.60px;color:#6B7280;letter-spacing:0.70px;-webkit-text-stroke:0.25px #6B7280;">Chat</span>
<span class="t" style="left:1157.6px;top:1016.20px;font-size:24.80px;color:#111827;letter-spacing:0.89px;-webkit-text-stroke:0.4px #111827;">$15,235</span>
<span class="t" style="left:1370.8px;top:978.80px;font-size:23.60px;color:#6B7280;letter-spacing:0.55px;-webkit-text-stroke:0.25px #6B7280;">Operational</span>
<span class="t" style="left:1351.8px;top:1016.20px;font-size:24.80px;color:#111827;letter-spacing:0.86px;-webkit-text-stroke:0.4px #111827;">$10,557</span>
<span class="t" style="left:1623.8px;top:334.70px;font-size:23.60px;color:#6B7280;letter-spacing:0.42px;-webkit-text-stroke:0.25px #6B7280;">Total Deals</span>
<span class="t" style="left:1624.1px;top:368.40px;font-size:28.80px;color:#111827;font-weight:700;letter-spacing:1.00px;">$45,221,45</span>
<span class="t" style="left:1653.2px;top:462.70px;font-size:22.53px;color:#E70D0D;-webkit-text-stroke:0.25px #E70D0D;">-4.01%</span>
<span class="t" style="left:1733.5px;top:461.70px;font-size:23.60px;color:#6B7280;letter-spacing:0.16px;-webkit-text-stroke:0.25px #6B7280;">from last week</span>
<span class="t" style="left:2164.8px;top:330.10px;font-size:23.60px;color:#6B7280;letter-spacing:0.56px;-webkit-text-stroke:0.25px #6B7280;">Total Customers</span>
<span class="t" style="left:2164.5px;top:363.80px;font-size:29.01px;color:#111827;font-weight:700;letter-spacing:1.31px;">9895</span>
<span class="t" style="left:2194.1px;top:461.70px;font-size:23.05px;color:#03C95A;-webkit-text-stroke:0.25px #03C95A;">+55%</span>
<span class="t" style="left:2262.6px;top:461.70px;font-size:23.60px;color:#6B7280;letter-spacing:0.16px;-webkit-text-stroke:0.25px #6B7280;">from last week</span>
<span class="t" style="left:1622.4px;top:615.10px;font-size:23.60px;color:#6B7280;letter-spacing:0.46px;-webkit-text-stroke:0.25px #6B7280;">Deal Value</span>
<span class="t" style="left:1624.1px;top:648.80px;font-size:28.80px;color:#111827;font-weight:700;letter-spacing:1.00px;">$12,545,68</span>
<span class="t" style="left:1653.1px;top:746.70px;font-size:22.93px;color:#03C95A;-webkit-text-stroke:0.25px #03C95A;">+20.01%</span>
<span class="t" style="left:1753.2px;top:746.70px;font-size:23.60px;color:#6B7280;letter-spacing:0.16px;-webkit-text-stroke:0.25px #6B7280;">from last week</span>
<span class="t" style="left:2164.1px;top:615.10px;font-size:23.60px;color:#6B7280;letter-spacing:0.50px;-webkit-text-stroke:0.25px #6B7280;">Conversion Rate</span>
<span class="t" style="left:2164.6px;top:648.80px;font-size:28.85px;color:#111827;font-weight:700;letter-spacing:1.30px;">51.96%</span>
<span class="t" style="left:2194.2px;top:746.70px;font-size:23.02px;color:#E70D0D;-webkit-text-stroke:0.25px #E70D0D;">-6.01%</span>
<span class="t" style="left:2276.0px;top:746.70px;font-size:23.60px;color:#6B7280;letter-spacing:0.16px;-webkit-text-stroke:0.25px #6B7280;">from last week</span>
<span class="t" style="left:1622.4px;top:900.10px;font-size:23.60px;color:#6B7280;letter-spacing:0.50px;-webkit-text-stroke:0.25px #6B7280;">Revenue this month</span>
<span class="t" style="left:1624.1px;top:933.80px;font-size:28.80px;color:#111827;font-weight:700;letter-spacing:1.00px;">$46,548,48</span>
<span class="t" style="left:1653.1px;top:1031.70px;font-size:23.20px;color:#03C95A;letter-spacing:0.04px;-webkit-text-stroke:0.25px #03C95A;">+55%</span>
<span class="t" style="left:1722.1px;top:1031.70px;font-size:23.60px;color:#6B7280;letter-spacing:0.16px;-webkit-text-stroke:0.25px #6B7280;">from last week</span>
<span class="t" style="left:2165.2px;top:900.10px;font-size:23.60px;color:#6B7280;letter-spacing:0.56px;-webkit-text-stroke:0.25px #6B7280;">Active Customers</span>
<span class="t" style="left:2164.6px;top:933.80px;font-size:28.95px;color:#111827;font-weight:700;letter-spacing:1.30px;">8987</span>
<span class="t" style="left:2194.2px;top:1031.70px;font-size:23.18px;color:#E70D0D;-webkit-text-stroke:0.25px #E70D0D;">-3.22%</span>
<span class="t" style="left:2276.5px;top:1031.70px;font-size:23.60px;color:#6B7280;letter-spacing:0.16px;-webkit-text-stroke:0.25px #6B7280;">from last week</span>
<span class="t" style="left:546.2px;top:1181.10px;font-size:28.75px;color:#111827;font-weight:700;">Deals by Stage</span>
<span class="t" style="left:1028.3px;top:1186.10px;font-size:21.53px;color:#111827;-webkit-text-stroke:0.35px #111827;">This Week</span>
<span class="t" style="left:547.7px;top:1293.20px;font-size:36.42px;color:#0B0B0C;font-weight:700;letter-spacing:1.64px;">$20,245</span>
<span class="t" style="left:734.1px;top:1300.00px;font-size:21.89px;color:#03C95A;letter-spacing:0.99px;-webkit-text-stroke:0.25px #03C95A;">12%</span>
<span class="t" style="left:803.3px;top:1299.00px;font-size:25.20px;color:#6B7280;letter-spacing:0.06px;-webkit-text-stroke:0.25px #6B7280;">vs last years</span>
<span class="t" style="left:556.0px;top:1428.00px;font-size:23.40px;color:#6B7280;letter-spacing:0.30px;-webkit-text-stroke:0.25px #6B7280;">100</span>
<span class="t" style="left:569.3px;top:1499.95px;font-size:23.40px;color:#6B7280;letter-spacing:0.30px;-webkit-text-stroke:0.25px #6B7280;">80</span>
<span class="t" style="left:569.3px;top:1571.90px;font-size:23.40px;color:#6B7280;letter-spacing:0.30px;-webkit-text-stroke:0.25px #6B7280;">60</span>
<span class="t" style="left:569.3px;top:1643.85px;font-size:23.40px;color:#6B7280;letter-spacing:0.30px;-webkit-text-stroke:0.25px #6B7280;">40</span>
<span class="t" style="left:569.3px;top:1715.80px;font-size:23.40px;color:#6B7280;letter-spacing:0.30px;-webkit-text-stroke:0.25px #6B7280;">20</span>
<span class="t" style="left:582.6px;top:1787.75px;font-size:23.40px;color:#6B7280;letter-spacing:0.30px;-webkit-text-stroke:0.25px #6B7280;">0</span>
<span class="t" style="left:631.8px;top:1842.60px;font-size:23.40px;color:#6B7280;letter-spacing:0.52px;-webkit-text-stroke:0.25px #6B7280;">Inpipeline</span>
<span class="t" style="left:759.0px;top:1842.60px;font-size:23.40px;color:#6B7280;letter-spacing:0.37px;-webkit-text-stroke:0.25px #6B7280;">Follow Up</span>
<span class="t" style="left:888.5px;top:1842.60px;font-size:23.40px;color:#6B7280;letter-spacing:0.54px;-webkit-text-stroke:0.25px #6B7280;">Schedule</span>
<span class="t" style="left:1012.3px;top:1842.60px;font-size:23.40px;color:#6B7280;letter-spacing:0.67px;-webkit-text-stroke:0.25px #6B7280;">Conversion</span>
<span class="t" style="left:1265.1px;top:1181.10px;font-size:28.63px;color:#111827;font-weight:700;">Deals By Companies</span>
<span class="t" style="left:1744.4px;top:1186.10px;font-size:21.53px;color:#111827;-webkit-text-stroke:0.35px #111827;">This Week</span>
<span class="t" style="left:1360.3px;top:1312.90px;font-size:27.00px;color:#111827;letter-spacing:0.56px;-webkit-text-stroke:0.45px #111827;">Pitch</span>
<span class="t" style="left:1361.3px;top:1349.80px;font-size:23.80px;color:#6B7280;letter-spacing:0.04px;-webkit-text-stroke:0.25px #6B7280;">Closing Deal date 05 April, 2025</span>
<span class="t" style="left:1775.5px;top:1327.40px;font-size:26.16px;color:#111827;-webkit-text-stroke:0.45px #111827;">$3655</span>
<span class="t" style="left:1360.0px;top:1431.20px;font-size:27.00px;color:#111827;letter-spacing:0.29px;-webkit-text-stroke:0.45px #111827;">Initech</span>
<span class="t" style="left:1361.3px;top:1469.10px;font-size:23.65px;color:#6B7280;-webkit-text-stroke:0.25px #6B7280;">Closing Deal date 05 May, 2025</span>
<span class="t" style="left:1775.5px;top:1445.70px;font-size:26.16px;color:#111827;-webkit-text-stroke:0.45px #111827;">$2185</span>
<span class="t" style="left:1360.4px;top:1549.50px;font-size:26.55px;color:#111827;-webkit-text-stroke:0.45px #111827;">Umbrella Corp</span>
<span class="t" style="left:1361.3px;top:1586.40px;font-size:23.80px;color:#6B7280;letter-spacing:0.04px;-webkit-text-stroke:0.25px #6B7280;">Closing Deal date 29 April, 2025</span>
<span class="t" style="left:1775.5px;top:1564.00px;font-size:26.18px;color:#111827;-webkit-text-stroke:0.45px #111827;">$1583</span>
<span class="t" style="left:1361.2px;top:1667.80px;font-size:26.34px;color:#111827;-webkit-text-stroke:0.45px #111827;">Capital Partners</span>
<span class="t" style="left:1361.3px;top:1705.70px;font-size:23.66px;color:#6B7280;-webkit-text-stroke:0.25px #6B7280;">Closing Deal date 23 Mar, 2025</span>
<span class="t" style="left:1775.5px;top:1682.30px;font-size:26.04px;color:#111827;-webkit-text-stroke:0.45px #111827;">$6584</span>
<span class="t" style="left:1360.3px;top:1786.10px;font-size:26.50px;color:#111827;-webkit-text-stroke:0.45px #111827;">Massive Dynamic</span>
<span class="t" style="left:1361.3px;top:1824.00px;font-size:23.72px;color:#6B7280;-webkit-text-stroke:0.25px #6B7280;">Closing Deal date 23 Feb, 2025</span>
<span class="t" style="left:1775.5px;top:1800.60px;font-size:26.18px;color:#111827;-webkit-text-stroke:0.45px #111827;">$2153</span>
<span class="t" style="left:1983.5px;top:1181.10px;font-size:28.75px;color:#111827;font-weight:700;">Top Deals</span>
<span class="t" style="left:2458.2px;top:1186.10px;font-size:21.53px;color:#111827;-webkit-text-stroke:0.35px #111827;">This Week</span>
<span class="t" style="left:1983.0px;top:1648.10px;font-size:25.63px;color:#111827;font-weight:700;">Status</span>
<span class="t" style="left:2010.1px;top:1707.70px;font-size:24.30px;color:#6B7280;letter-spacing:0.12px;-webkit-text-stroke:0.25px #6B7280;">Marketing</span>
<span class="t" style="left:2478.4px;top:1709.70px;font-size:22.20px;color:#111827;-webkit-text-stroke:0.35px #111827;">$5,69,877</span>
<span class="t" style="left:2010.9px;top:1766.60px;font-size:24.19px;color:#6B7280;-webkit-text-stroke:0.25px #6B7280;">Chat</span>
<span class="t" style="left:2478.4px;top:1768.60px;font-size:22.15px;color:#111827;-webkit-text-stroke:0.35px #111827;">$4,84,575</span>
<span class="t" style="left:2010.1px;top:1825.50px;font-size:24.30px;color:#6B7280;letter-spacing:0.44px;-webkit-text-stroke:0.25px #6B7280;">Email</span>
<span class="t" style="left:2478.4px;top:1827.50px;font-size:22.15px;color:#111827;-webkit-text-stroke:0.35px #111827;">$1,84,575</span>
<svg class="i" style="left:88px;top:30px" width="190" height="56" viewBox="0 0 190 56">
<defs><linearGradient id="lg3" x1="0" y1="1" x2="1" y2="0"><stop offset="0" stop-color="#F58220"/><stop offset="1" stop-color="#E5264D"/></linearGradient></defs>
<text x="4" y="40.5" font-family="Liberation Sans, sans-serif" font-weight="700" font-size="39" fill="#3B3838" textLength="114" lengthAdjust="spacingAndGlyphs">Smart</text>
<text x="119" y="40.5" font-family="Liberation Sans, sans-serif" font-weight="700" font-size="39" fill="url(#lg3)" textLength="56" lengthAdjust="spacingAndGlyphs">HR</text>
</svg>
<span class="t" style="left:28.8px;top:143.10px;font-size:17.90px;color:#9CA3AF;letter-spacing:0.64px;-webkit-text-stroke:0.6px #9CA3AF;">MAIN MENU</span>
<span class="t" style="left:84.6px;top:206.60px;font-size:25.90px;color:#111827;letter-spacing:0.46px;-webkit-text-stroke:0.45px #111827;">Dashboard</span>
<span class="t" style="left:89.0px;top:282.00px;font-size:22.30px;color:#6B7280;-webkit-text-stroke:0.2px #6B7280;">Admin Dashboard</span>
<span class="t" style="left:87.3px;top:341.25px;font-size:22.30px;color:#6B7280;-webkit-text-stroke:0.2px #6B7280;">Employee Dashboard</span>
<span class="t" style="left:87.3px;top:400.50px;font-size:22.30px;color:#6B7280;-webkit-text-stroke:0.2px #6B7280;">Deals Dashboard</span>
<span class="t" style="left:87.3px;top:459.75px;font-size:22.30px;color:#6B7280;-webkit-text-stroke:0.2px #6B7280;">Leads Dashboard</span>
<span class="t" style="left:87.3px;top:519.00px;font-size:22.30px;color:#6B7280;-webkit-text-stroke:0.2px #6B7280;">HR Dashboard</span>
<span class="t" style="left:87.3px;top:578.25px;font-size:22.30px;color:#6B7280;-webkit-text-stroke:0.2px #6B7280;">Payroll Dashboard</span>
<span class="t" style="left:87.3px;top:637.50px;font-size:22.30px;color:#6B7280;-webkit-text-stroke:0.2px #6B7280;">Recruitment Dashboard</span>
<span class="t" style="left:89.0px;top:696.75px;font-size:22.30px;color:#6B7280;-webkit-text-stroke:0.2px #6B7280;">Attendance Dashboard</span>
<span class="t" style="left:87.3px;top:756.00px;font-size:22.30px;color:#6B7280;-webkit-text-stroke:0.2px #6B7280;">Finance Dashboard</span>
<span class="t" style="left:87.0px;top:815.25px;font-size:22.30px;color:#6B7280;-webkit-text-stroke:0.2px #6B7280;">IT Admin Dashboard</span>
<span class="t" style="left:89.0px;top:874.50px;font-size:22.30px;color:#6B7280;-webkit-text-stroke:0.2px #6B7280;">Asset Dashboard</span>
<span class="t" style="left:87.3px;top:933.75px;font-size:22.30px;color:#6B7280;-webkit-text-stroke:0.2px #6B7280;">Help Desk</span>
<span class="t" style="left:87.3px;top:993.00px;font-size:22.30px;color:#6B7280;-webkit-text-stroke:0.2px #6B7280;">Marketing</span>
<span class="t" style="left:89.0px;top:1052.25px;font-size:22.30px;color:#6B7280;-webkit-text-stroke:0.2px #6B7280;">Analytics</span>
<span class="t" style="left:85.9px;top:1117.00px;font-size:25.90px;color:#111827;letter-spacing:0.48px;-webkit-text-stroke:0.45px #111827;">Applications</span>
<span class="t" style="left:84.8px;top:1184.30px;font-size:25.90px;color:#111827;letter-spacing:0.41px;-webkit-text-stroke:0.45px #111827;">Super Admin</span>
<span class="t" style="left:28.7px;top:1283.60px;font-size:17.92px;color:#9CA3AF;letter-spacing:0.81px;-webkit-text-stroke:0.6px #9CA3AF;">LAYOUT</span>
<span class="t" style="left:83.9px;top:1339.20px;font-size:25.90px;color:#111827;letter-spacing:0.69px;-webkit-text-stroke:0.45px #111827;">Horizontal</span>
<span class="t" style="left:83.9px;top:1413.25px;font-size:25.90px;color:#111827;letter-spacing:0.70px;-webkit-text-stroke:0.45px #111827;">Detached</span>
<span class="t" style="left:83.9px;top:1487.30px;font-size:25.90px;color:#111827;letter-spacing:0.93px;-webkit-text-stroke:0.45px #111827;">Modern</span>
<span class="t" style="left:85.4px;top:1561.35px;font-size:25.90px;color:#111827;letter-spacing:0.31px;-webkit-text-stroke:0.45px #111827;">Two Column</span>
<span class="t" style="left:83.9px;top:1635.40px;font-size:25.90px;color:#111827;letter-spacing:0.60px;-webkit-text-stroke:0.45px #111827;">Hovered</span>
<span class="t" style="left:83.9px;top:1709.45px;font-size:25.90px;color:#111827;letter-spacing:0.94px;-webkit-text-stroke:0.45px #111827;">Boxed</span>
<span class="t" style="left:83.9px;top:1783.50px;font-size:25.90px;color:#111827;letter-spacing:0.92px;-webkit-text-stroke:0.45px #111827;">RTL</span>
<span class="t" style="left:83.9px;top:1857.55px;font-size:25.90px;color:#111827;letter-spacing:0.48px;-webkit-text-stroke:0.45px #111827;">Dark</span>
<span class="t" style="left:29.3px;top:1964.50px;font-size:17.90px;color:#9CA3AF;letter-spacing:0.65px;-webkit-text-stroke:0.6px #9CA3AF;">CONTENT</span>
</div>
</body></html>
